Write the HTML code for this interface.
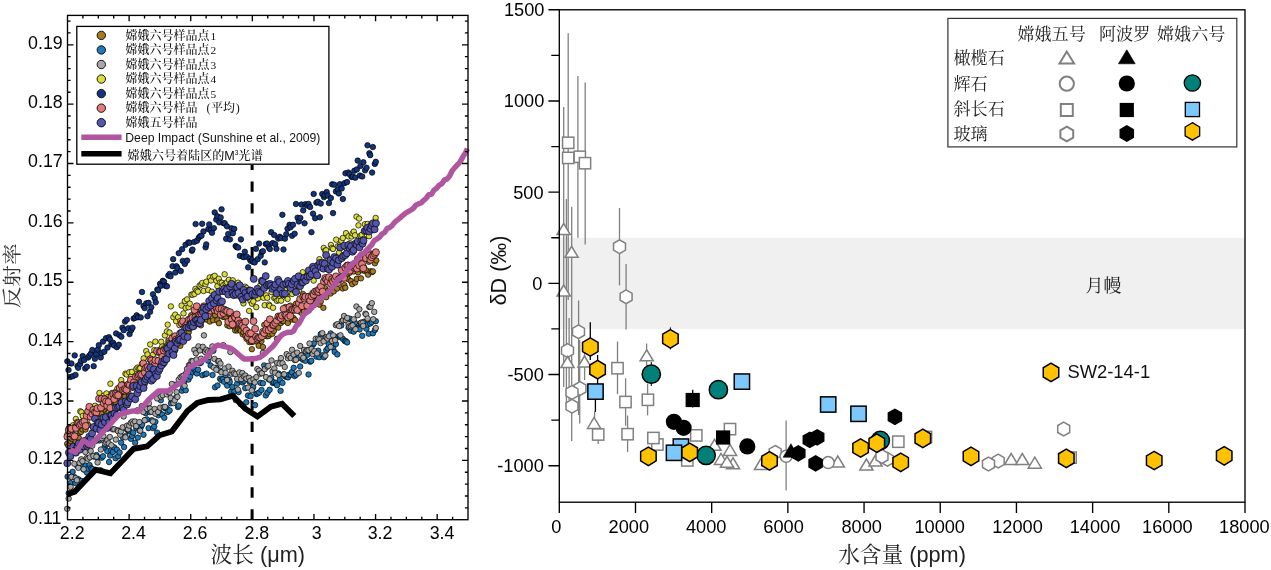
<!DOCTYPE html>
<html lang="zh"><head><meta charset="utf-8"><title>figure</title>
<style>html,body{margin:0;padding:0;background:#fff}svg{display:block;will-change:transform}text{white-space:pre}</style>
</head><body>
<svg width="1271" height="570" viewBox="0 0 1271 570">
<rect width="1271" height="570" fill="#fff"/>
<g id="left">
<line x1="252.1" y1="519.5" x2="252.1" y2="165" stroke="#000" stroke-width="3" stroke-dasharray="10.3 11.55"/>
<g fill="#a67a1f" stroke="#000" stroke-width="0.7">
<circle cx="67.2" cy="443.77" r="2.75"/><circle cx="68.49" cy="445.95" r="2.75"/><circle cx="70.63" cy="440.91" r="2.75"/><circle cx="71.75" cy="438.98" r="2.75"/><circle cx="73.03" cy="434.53" r="2.75"/><circle cx="74.73" cy="436.46" r="2.75"/><circle cx="75.71" cy="441.32" r="2.75"/><circle cx="77.44" cy="436.52" r="2.75"/><circle cx="78.78" cy="437.96" r="2.75"/><circle cx="79.66" cy="432.67" r="2.75"/><circle cx="81.07" cy="431.87" r="2.75"/><circle cx="82.48" cy="429.36" r="2.75"/><circle cx="83.82" cy="418.97" r="2.75"/><circle cx="85.47" cy="429.57" r="2.75"/><circle cx="86.59" cy="426.4" r="2.75"/><circle cx="88.09" cy="424.86" r="2.75"/><circle cx="89.24" cy="412.85" r="2.75"/><circle cx="91.24" cy="411.58" r="2.75"/><circle cx="92.17" cy="414.66" r="2.75"/><circle cx="93.63" cy="415.66" r="2.75"/><circle cx="95.11" cy="418.35" r="2.75"/><circle cx="96.75" cy="415.65" r="2.75"/><circle cx="97.74" cy="417.35" r="2.75"/><circle cx="99.51" cy="410.74" r="2.75"/><circle cx="100.55" cy="414.28" r="2.75"/><circle cx="101.96" cy="413.67" r="2.75"/><circle cx="103.33" cy="407.59" r="2.75"/><circle cx="104.3" cy="417.98" r="2.75"/><circle cx="106.01" cy="411.39" r="2.75"/><circle cx="107.19" cy="413.44" r="2.75"/><circle cx="108.42" cy="403.7" r="2.75"/><circle cx="110.43" cy="402.1" r="2.75"/><circle cx="111.31" cy="402.98" r="2.75"/><circle cx="112.93" cy="403.1" r="2.75"/><circle cx="114.51" cy="405.62" r="2.75"/><circle cx="115.75" cy="402.76" r="2.75"/><circle cx="116.94" cy="398.4" r="2.75"/><circle cx="118.47" cy="394.93" r="2.75"/><circle cx="119.88" cy="396" r="2.75"/><circle cx="121.44" cy="403.34" r="2.75"/><circle cx="122.27" cy="392.58" r="2.75"/><circle cx="124.01" cy="396.61" r="2.75"/><circle cx="125.14" cy="396.46" r="2.75"/><circle cx="126.54" cy="386.25" r="2.75"/><circle cx="128.32" cy="392.61" r="2.75"/><circle cx="129.48" cy="397.62" r="2.75"/><circle cx="130.9" cy="380.66" r="2.75"/><circle cx="132.44" cy="387.57" r="2.75"/><circle cx="133.94" cy="387.3" r="2.75"/><circle cx="134.94" cy="382.58" r="2.75"/><circle cx="136.45" cy="387.58" r="2.75"/><circle cx="137.74" cy="383.58" r="2.75"/><circle cx="139.13" cy="375.54" r="2.75"/><circle cx="140.65" cy="385.24" r="2.75"/><circle cx="141.83" cy="383.17" r="2.75"/><circle cx="143.27" cy="383.19" r="2.75"/><circle cx="144.61" cy="384.25" r="2.75"/><circle cx="146.36" cy="377.77" r="2.75"/><circle cx="147.54" cy="375.29" r="2.75"/><circle cx="149.06" cy="367.18" r="2.75"/><circle cx="150.49" cy="375.06" r="2.75"/><circle cx="151.32" cy="367.86" r="2.75"/><circle cx="152.94" cy="367.31" r="2.75"/><circle cx="154.62" cy="361.97" r="2.75"/><circle cx="155.91" cy="361.86" r="2.75"/><circle cx="156.73" cy="362.43" r="2.75"/><circle cx="158.09" cy="369.63" r="2.75"/><circle cx="159.73" cy="352.16" r="2.75"/><circle cx="160.81" cy="353.39" r="2.75"/><circle cx="162.32" cy="360.01" r="2.75"/><circle cx="163.56" cy="364.25" r="2.75"/><circle cx="165.42" cy="358.57" r="2.75"/><circle cx="166.89" cy="345.15" r="2.75"/><circle cx="168.36" cy="340.65" r="2.75"/><circle cx="169.14" cy="352.92" r="2.75"/><circle cx="170.97" cy="346.14" r="2.75"/><circle cx="172.3" cy="342.77" r="2.75"/><circle cx="173.26" cy="351.31" r="2.75"/><circle cx="175.23" cy="350.37" r="2.75"/><circle cx="176.68" cy="344.11" r="2.75"/><circle cx="177.45" cy="342.79" r="2.75"/><circle cx="179.42" cy="341.95" r="2.75"/><circle cx="180.35" cy="345.77" r="2.75"/><circle cx="181.8" cy="339.34" r="2.75"/><circle cx="183.58" cy="337.12" r="2.75"/><circle cx="184.83" cy="335.51" r="2.75"/><circle cx="185.67" cy="323.61" r="2.75"/><circle cx="187.26" cy="335.55" r="2.75"/><circle cx="188.71" cy="332.24" r="2.75"/><circle cx="189.94" cy="328.48" r="2.75"/><circle cx="191.21" cy="315.24" r="2.75"/><circle cx="192.68" cy="320.44" r="2.75"/><circle cx="194.38" cy="326.3" r="2.75"/><circle cx="195.2" cy="312.34" r="2.75"/><circle cx="197" cy="318.93" r="2.75"/><circle cx="198.29" cy="323.48" r="2.75"/><circle cx="199.33" cy="311.57" r="2.75"/><circle cx="200.96" cy="325.34" r="2.75"/><circle cx="202.57" cy="320" r="2.75"/><circle cx="203.86" cy="316.37" r="2.75"/><circle cx="204.87" cy="318.39" r="2.75"/><circle cx="206.99" cy="319.69" r="2.75"/><circle cx="208.21" cy="316.89" r="2.75"/><circle cx="209.73" cy="321.56" r="2.75"/><circle cx="210.42" cy="312.62" r="2.75"/><circle cx="211.92" cy="313.55" r="2.75"/><circle cx="213.12" cy="320.28" r="2.75"/><circle cx="215.09" cy="315.15" r="2.75"/><circle cx="216.06" cy="311.14" r="2.75"/><circle cx="217.32" cy="320.31" r="2.75"/><circle cx="218.93" cy="323.21" r="2.75"/><circle cx="220.7" cy="314.45" r="2.75"/><circle cx="222.01" cy="310.36" r="2.75"/><circle cx="222.93" cy="316.74" r="2.75"/><circle cx="224.22" cy="317.08" r="2.75"/><circle cx="226.22" cy="316.77" r="2.75"/><circle cx="227.32" cy="325.35" r="2.75"/><circle cx="228.8" cy="314.1" r="2.75"/><circle cx="229.68" cy="326.29" r="2.75"/><circle cx="231.04" cy="315.36" r="2.75"/><circle cx="232.92" cy="318.88" r="2.75"/><circle cx="234.09" cy="326.9" r="2.75"/><circle cx="235.18" cy="330.49" r="2.75"/><circle cx="237.25" cy="330.4" r="2.75"/><circle cx="238.38" cy="329.15" r="2.75"/><circle cx="239.9" cy="329.38" r="2.75"/><circle cx="240.7" cy="330.85" r="2.75"/><circle cx="242.69" cy="334.37" r="2.75"/><circle cx="243.44" cy="332.26" r="2.75"/><circle cx="245.45" cy="335.93" r="2.75"/><circle cx="246.5" cy="338.84" r="2.75"/><circle cx="247.79" cy="337.59" r="2.75"/><circle cx="249.34" cy="342.08" r="2.75"/><circle cx="251.01" cy="341.69" r="2.75"/><circle cx="251.86" cy="349.2" r="2.75"/><circle cx="253.13" cy="341.67" r="2.75"/><circle cx="254.83" cy="338.63" r="2.75"/><circle cx="255.97" cy="339.46" r="2.75"/><circle cx="257.25" cy="341.75" r="2.75"/><circle cx="258.66" cy="345.73" r="2.75"/><circle cx="259.95" cy="338.65" r="2.75"/><circle cx="261.45" cy="341.08" r="2.75"/><circle cx="262.92" cy="347.02" r="2.75"/><circle cx="264.29" cy="324.86" r="2.75"/><circle cx="266.03" cy="330.74" r="2.75"/><circle cx="267.03" cy="336.27" r="2.75"/><circle cx="268.58" cy="335.98" r="2.75"/><circle cx="269.7" cy="334.18" r="2.75"/><circle cx="271.21" cy="329.78" r="2.75"/><circle cx="272.32" cy="333.8" r="2.75"/><circle cx="273.89" cy="330.82" r="2.75"/><circle cx="275.07" cy="325.76" r="2.75"/><circle cx="277.03" cy="338.74" r="2.75"/><circle cx="278.26" cy="327.59" r="2.75"/><circle cx="279.35" cy="322.03" r="2.75"/><circle cx="280.95" cy="323.02" r="2.75"/><circle cx="282.7" cy="321.22" r="2.75"/><circle cx="283.41" cy="320.93" r="2.75"/><circle cx="285.36" cy="307.09" r="2.75"/><circle cx="286.43" cy="316.81" r="2.75"/><circle cx="287.85" cy="322.95" r="2.75"/><circle cx="289.5" cy="311.47" r="2.75"/><circle cx="290.53" cy="315.72" r="2.75"/><circle cx="291.99" cy="319.58" r="2.75"/><circle cx="293.52" cy="318.07" r="2.75"/><circle cx="295.13" cy="320.08" r="2.75"/><circle cx="295.99" cy="303.72" r="2.75"/><circle cx="297.76" cy="309.15" r="2.75"/><circle cx="299.04" cy="308.17" r="2.75"/><circle cx="300.36" cy="311.76" r="2.75"/><circle cx="301.55" cy="312.97" r="2.75"/><circle cx="302.88" cy="293.89" r="2.75"/><circle cx="304.03" cy="311.2" r="2.75"/><circle cx="305.47" cy="298.24" r="2.75"/><circle cx="306.79" cy="307.67" r="2.75"/><circle cx="308.71" cy="296.44" r="2.75"/><circle cx="309.7" cy="303.65" r="2.75"/><circle cx="311" cy="307.75" r="2.75"/><circle cx="312.31" cy="300.51" r="2.75"/><circle cx="314.3" cy="301.35" r="2.75"/><circle cx="315.7" cy="303.47" r="2.75"/><circle cx="316.92" cy="299.53" r="2.75"/><circle cx="317.98" cy="297.63" r="2.75"/><circle cx="319.33" cy="304.63" r="2.75"/><circle cx="320.75" cy="301.44" r="2.75"/><circle cx="322.26" cy="294.1" r="2.75"/><circle cx="323.39" cy="307.8" r="2.75"/><circle cx="325" cy="288.22" r="2.75"/><circle cx="326.23" cy="297.22" r="2.75"/><circle cx="328.17" cy="290.66" r="2.75"/><circle cx="329.55" cy="291.67" r="2.75"/><circle cx="330.59" cy="293.53" r="2.75"/><circle cx="331.72" cy="290.32" r="2.75"/><circle cx="333.68" cy="291.42" r="2.75"/><circle cx="334.53" cy="280.13" r="2.75"/><circle cx="335.95" cy="279.32" r="2.75"/><circle cx="337.04" cy="288.62" r="2.75"/><circle cx="338.72" cy="280.21" r="2.75"/><circle cx="340.17" cy="279.08" r="2.75"/><circle cx="341.57" cy="276.12" r="2.75"/><circle cx="342.71" cy="288.43" r="2.75"/><circle cx="344.33" cy="285.11" r="2.75"/><circle cx="345.3" cy="287.77" r="2.75"/><circle cx="346.89" cy="275.37" r="2.75"/><circle cx="348.13" cy="279.05" r="2.75"/><circle cx="349.75" cy="272.75" r="2.75"/><circle cx="350.84" cy="281.07" r="2.75"/><circle cx="352.21" cy="284.2" r="2.75"/><circle cx="353.81" cy="271.47" r="2.75"/><circle cx="355.13" cy="282.4" r="2.75"/><circle cx="356.79" cy="278.83" r="2.75"/><circle cx="358.12" cy="272.41" r="2.75"/><circle cx="359.67" cy="262.97" r="2.75"/><circle cx="360.98" cy="278.36" r="2.75"/><circle cx="362.4" cy="270.32" r="2.75"/><circle cx="363.91" cy="267.06" r="2.75"/><circle cx="364.89" cy="271.05" r="2.75"/><circle cx="366.22" cy="270.27" r="2.75"/><circle cx="368.12" cy="274.67" r="2.75"/><circle cx="368.83" cy="261.76" r="2.75"/><circle cx="370.67" cy="271.28" r="2.75"/><circle cx="371.98" cy="272.14" r="2.75"/><circle cx="372.88" cy="271.39" r="2.75"/><circle cx="374.89" cy="263.34" r="2.75"/><circle cx="376.31" cy="260.43" r="2.75"/>
</g>
<g fill="#1f78b8" stroke="#000" stroke-width="0.7">
<circle cx="67.58" cy="476.63" r="2.75"/><circle cx="68.7" cy="493.22" r="2.75"/><circle cx="70.53" cy="483.06" r="2.75"/><circle cx="71.65" cy="477.26" r="2.75"/><circle cx="72.63" cy="471.78" r="2.75"/><circle cx="74.51" cy="477.11" r="2.75"/><circle cx="75.52" cy="483.2" r="2.75"/><circle cx="77.26" cy="466.04" r="2.75"/><circle cx="78.3" cy="479.16" r="2.75"/><circle cx="79.79" cy="466.47" r="2.75"/><circle cx="81.43" cy="480.86" r="2.75"/><circle cx="82.54" cy="465.91" r="2.75"/><circle cx="83.63" cy="469.42" r="2.75"/><circle cx="85.68" cy="465.61" r="2.75"/><circle cx="86.78" cy="472.45" r="2.75"/><circle cx="88.37" cy="468.68" r="2.75"/><circle cx="89.51" cy="465" r="2.75"/><circle cx="91.22" cy="468.28" r="2.75"/><circle cx="92.39" cy="469.16" r="2.75"/><circle cx="93.98" cy="456.59" r="2.75"/><circle cx="95.37" cy="456.33" r="2.75"/><circle cx="96.5" cy="455.05" r="2.75"/><circle cx="97.44" cy="457.4" r="2.75"/><circle cx="99.34" cy="440.49" r="2.75"/><circle cx="100.51" cy="470.26" r="2.75"/><circle cx="101.78" cy="457.68" r="2.75"/><circle cx="102.97" cy="456.29" r="2.75"/><circle cx="104.44" cy="447.53" r="2.75"/><circle cx="106.08" cy="444.82" r="2.75"/><circle cx="107.29" cy="451.08" r="2.75"/><circle cx="109.09" cy="462.01" r="2.75"/><circle cx="110.15" cy="455.55" r="2.75"/><circle cx="111.23" cy="450.25" r="2.75"/><circle cx="112.88" cy="451.97" r="2.75"/><circle cx="114.37" cy="447.41" r="2.75"/><circle cx="115.61" cy="458.18" r="2.75"/><circle cx="116.93" cy="449.63" r="2.75"/><circle cx="118.13" cy="456.14" r="2.75"/><circle cx="119.59" cy="452.42" r="2.75"/><circle cx="121.17" cy="442.68" r="2.75"/><circle cx="122.78" cy="437.34" r="2.75"/><circle cx="124.07" cy="447.12" r="2.75"/><circle cx="125.44" cy="436.14" r="2.75"/><circle cx="126.62" cy="429.05" r="2.75"/><circle cx="128.34" cy="431.04" r="2.75"/><circle cx="129.23" cy="430.41" r="2.75"/><circle cx="130.94" cy="438.82" r="2.75"/><circle cx="132.1" cy="435.95" r="2.75"/><circle cx="133.24" cy="432.62" r="2.75"/><circle cx="135.14" cy="442.72" r="2.75"/><circle cx="136.2" cy="427.69" r="2.75"/><circle cx="137.82" cy="437.58" r="2.75"/><circle cx="139.47" cy="430.65" r="2.75"/><circle cx="140.75" cy="427.34" r="2.75"/><circle cx="142.04" cy="424.84" r="2.75"/><circle cx="143.47" cy="434.78" r="2.75"/><circle cx="144.96" cy="420.15" r="2.75"/><circle cx="145.71" cy="413.19" r="2.75"/><circle cx="146.99" cy="419.38" r="2.75"/><circle cx="148.6" cy="428.14" r="2.75"/><circle cx="149.85" cy="412.12" r="2.75"/><circle cx="151.8" cy="420.21" r="2.75"/><circle cx="153.12" cy="428.11" r="2.75"/><circle cx="154.28" cy="426.41" r="2.75"/><circle cx="155.37" cy="421.71" r="2.75"/><circle cx="157.14" cy="432.64" r="2.75"/><circle cx="158.43" cy="415.28" r="2.75"/><circle cx="159.72" cy="412.73" r="2.75"/><circle cx="160.81" cy="400.29" r="2.75"/><circle cx="162.3" cy="414.62" r="2.75"/><circle cx="164.3" cy="417.77" r="2.75"/><circle cx="165.02" cy="408.2" r="2.75"/><circle cx="166.63" cy="408" r="2.75"/><circle cx="167.83" cy="411.91" r="2.75"/><circle cx="169.63" cy="410.45" r="2.75"/><circle cx="171.02" cy="403.29" r="2.75"/><circle cx="171.99" cy="400.36" r="2.75"/><circle cx="173.35" cy="400.55" r="2.75"/><circle cx="174.88" cy="384.64" r="2.75"/><circle cx="176.09" cy="397.4" r="2.75"/><circle cx="178" cy="407.12" r="2.75"/><circle cx="178.71" cy="405.77" r="2.75"/><circle cx="180.23" cy="379.86" r="2.75"/><circle cx="181.93" cy="390.71" r="2.75"/><circle cx="183.16" cy="387.57" r="2.75"/><circle cx="184.17" cy="381.78" r="2.75"/><circle cx="185.73" cy="390.26" r="2.75"/><circle cx="187.22" cy="376.8" r="2.75"/><circle cx="188.48" cy="379.56" r="2.75"/><circle cx="190.15" cy="376.58" r="2.75"/><circle cx="191.21" cy="366.56" r="2.75"/><circle cx="192.84" cy="372.31" r="2.75"/><circle cx="194.29" cy="368.94" r="2.75"/><circle cx="195.71" cy="371.89" r="2.75"/><circle cx="196.85" cy="373.44" r="2.75"/><circle cx="198.1" cy="369.69" r="2.75"/><circle cx="199.79" cy="363.22" r="2.75"/><circle cx="200.85" cy="362.66" r="2.75"/><circle cx="202.37" cy="375.15" r="2.75"/><circle cx="203.51" cy="350" r="2.75"/><circle cx="205.22" cy="374.32" r="2.75"/><circle cx="206.53" cy="373.64" r="2.75"/><circle cx="208.11" cy="360.71" r="2.75"/><circle cx="209.38" cy="351.37" r="2.75"/><circle cx="210.65" cy="365.52" r="2.75"/><circle cx="212.5" cy="375.03" r="2.75"/><circle cx="213.42" cy="350.71" r="2.75"/><circle cx="215.06" cy="387.27" r="2.75"/><circle cx="216.17" cy="367.82" r="2.75"/><circle cx="217.53" cy="385.5" r="2.75"/><circle cx="219.35" cy="370.48" r="2.75"/><circle cx="220.1" cy="378.68" r="2.75"/><circle cx="221.42" cy="380.21" r="2.75"/><circle cx="223.02" cy="379.06" r="2.75"/><circle cx="224.21" cy="381.86" r="2.75"/><circle cx="225.6" cy="375.13" r="2.75"/><circle cx="227.18" cy="385.58" r="2.75"/><circle cx="228.98" cy="379.73" r="2.75"/><circle cx="229.75" cy="381.89" r="2.75"/><circle cx="231.12" cy="391.73" r="2.75"/><circle cx="232.42" cy="387.01" r="2.75"/><circle cx="234.35" cy="391.64" r="2.75"/><circle cx="235.77" cy="400.06" r="2.75"/><circle cx="237.17" cy="383.57" r="2.75"/><circle cx="238.61" cy="392" r="2.75"/><circle cx="239.74" cy="380.42" r="2.75"/><circle cx="240.7" cy="404.08" r="2.75"/><circle cx="242.56" cy="382.39" r="2.75"/><circle cx="243.9" cy="380.77" r="2.75"/><circle cx="245.26" cy="388.15" r="2.75"/><circle cx="246.3" cy="402.31" r="2.75"/><circle cx="247.97" cy="395.52" r="2.75"/><circle cx="249.65" cy="381.66" r="2.75"/><circle cx="250.56" cy="396.3" r="2.75"/><circle cx="252.43" cy="388.98" r="2.75"/><circle cx="253.18" cy="386.95" r="2.75"/><circle cx="255.08" cy="405.11" r="2.75"/><circle cx="256.32" cy="393.94" r="2.75"/><circle cx="257.47" cy="393.52" r="2.75"/><circle cx="259.21" cy="392.61" r="2.75"/><circle cx="260.43" cy="382.86" r="2.75"/><circle cx="261.49" cy="389.95" r="2.75"/><circle cx="262.96" cy="383.31" r="2.75"/><circle cx="264.19" cy="365.43" r="2.75"/><circle cx="265.78" cy="395.4" r="2.75"/><circle cx="267.45" cy="392.69" r="2.75"/><circle cx="268.82" cy="379.45" r="2.75"/><circle cx="269.61" cy="389.81" r="2.75"/><circle cx="271.22" cy="377.72" r="2.75"/><circle cx="272.71" cy="382.89" r="2.75"/><circle cx="273.72" cy="382.2" r="2.75"/><circle cx="275.8" cy="383.09" r="2.75"/><circle cx="277.02" cy="385.16" r="2.75"/><circle cx="278.42" cy="373.5" r="2.75"/><circle cx="279.72" cy="379.89" r="2.75"/><circle cx="280.59" cy="390.83" r="2.75"/><circle cx="282.44" cy="382.9" r="2.75"/><circle cx="283.41" cy="374.47" r="2.75"/><circle cx="285.41" cy="376.65" r="2.75"/><circle cx="286.73" cy="376.4" r="2.75"/><circle cx="288.01" cy="377.39" r="2.75"/><circle cx="289.01" cy="374.68" r="2.75"/><circle cx="290.7" cy="374.72" r="2.75"/><circle cx="291.85" cy="372.12" r="2.75"/><circle cx="293.69" cy="367.83" r="2.75"/><circle cx="294.55" cy="376.02" r="2.75"/><circle cx="296.1" cy="374.7" r="2.75"/><circle cx="297.59" cy="357.64" r="2.75"/><circle cx="298.77" cy="357.91" r="2.75"/><circle cx="300.18" cy="366.47" r="2.75"/><circle cx="301.45" cy="355.17" r="2.75"/><circle cx="302.91" cy="359.63" r="2.75"/><circle cx="304.2" cy="358.42" r="2.75"/><circle cx="305.4" cy="360.84" r="2.75"/><circle cx="307.51" cy="354.78" r="2.75"/><circle cx="308.53" cy="374.47" r="2.75"/><circle cx="310.21" cy="361.65" r="2.75"/><circle cx="311.3" cy="360.78" r="2.75"/><circle cx="312.84" cy="344.83" r="2.75"/><circle cx="313.93" cy="343.35" r="2.75"/><circle cx="315.12" cy="353.43" r="2.75"/><circle cx="316.44" cy="356.64" r="2.75"/><circle cx="318.25" cy="350.72" r="2.75"/><circle cx="319.37" cy="357.17" r="2.75"/><circle cx="320.76" cy="334.04" r="2.75"/><circle cx="322.58" cy="355.22" r="2.75"/><circle cx="323.98" cy="357.26" r="2.75"/><circle cx="325.24" cy="337.64" r="2.75"/><circle cx="326.25" cy="350.24" r="2.75"/><circle cx="327.73" cy="348.4" r="2.75"/><circle cx="328.81" cy="344.17" r="2.75"/><circle cx="330.64" cy="333.46" r="2.75"/><circle cx="331.57" cy="338.18" r="2.75"/><circle cx="333.15" cy="347.73" r="2.75"/><circle cx="334.71" cy="351.94" r="2.75"/><circle cx="335.9" cy="344.1" r="2.75"/><circle cx="337.33" cy="354.42" r="2.75"/><circle cx="338.54" cy="336.32" r="2.75"/><circle cx="340.15" cy="337.02" r="2.75"/><circle cx="341.28" cy="325.48" r="2.75"/><circle cx="342.76" cy="338.8" r="2.75"/><circle cx="344.7" cy="340.97" r="2.75"/><circle cx="345.96" cy="341.31" r="2.75"/><circle cx="347.15" cy="342.39" r="2.75"/><circle cx="348.54" cy="327.8" r="2.75"/><circle cx="349.83" cy="318.7" r="2.75"/><circle cx="350.81" cy="330.64" r="2.75"/><circle cx="352.21" cy="321.93" r="2.75"/><circle cx="353.69" cy="331.66" r="2.75"/><circle cx="355.03" cy="322.85" r="2.75"/><circle cx="356.84" cy="327.87" r="2.75"/><circle cx="358.03" cy="328.46" r="2.75"/><circle cx="359.59" cy="329.44" r="2.75"/><circle cx="360.78" cy="322.97" r="2.75"/><circle cx="362.23" cy="335.77" r="2.75"/><circle cx="363.71" cy="321.84" r="2.75"/><circle cx="365.16" cy="324.75" r="2.75"/><circle cx="366.39" cy="328.66" r="2.75"/><circle cx="367.69" cy="324.56" r="2.75"/><circle cx="368.78" cy="333.71" r="2.75"/><circle cx="370.23" cy="323.52" r="2.75"/><circle cx="371.68" cy="322.03" r="2.75"/><circle cx="372.94" cy="333.28" r="2.75"/><circle cx="374.96" cy="329.94" r="2.75"/><circle cx="375.81" cy="321.15" r="2.75"/>
</g>
<g fill="#a8a8a8" stroke="#000" stroke-width="0.7">
<circle cx="67.19" cy="508.8" r="2.75"/><circle cx="68.65" cy="498.56" r="2.75"/><circle cx="70.62" cy="486.96" r="2.75"/><circle cx="71.51" cy="476.93" r="2.75"/><circle cx="72.97" cy="491.74" r="2.75"/><circle cx="74.37" cy="463.78" r="2.75"/><circle cx="75.69" cy="478.27" r="2.75"/><circle cx="76.91" cy="480.25" r="2.75"/><circle cx="78.43" cy="467.82" r="2.75"/><circle cx="79.59" cy="462.86" r="2.75"/><circle cx="81.16" cy="459.32" r="2.75"/><circle cx="82.47" cy="461.24" r="2.75"/><circle cx="83.64" cy="469.24" r="2.75"/><circle cx="85.34" cy="452.06" r="2.75"/><circle cx="86.66" cy="457.95" r="2.75"/><circle cx="87.94" cy="458.77" r="2.75"/><circle cx="89.89" cy="457.29" r="2.75"/><circle cx="90.69" cy="450.95" r="2.75"/><circle cx="92.2" cy="445.71" r="2.75"/><circle cx="93.37" cy="455.97" r="2.75"/><circle cx="95.29" cy="441.31" r="2.75"/><circle cx="96.4" cy="456.65" r="2.75"/><circle cx="97.58" cy="462.44" r="2.75"/><circle cx="99.06" cy="438.6" r="2.75"/><circle cx="100.81" cy="449.52" r="2.75"/><circle cx="101.91" cy="438.23" r="2.75"/><circle cx="103.35" cy="436.14" r="2.75"/><circle cx="104.95" cy="443.6" r="2.75"/><circle cx="106.34" cy="442.65" r="2.75"/><circle cx="107.34" cy="440.26" r="2.75"/><circle cx="108.76" cy="443.35" r="2.75"/><circle cx="109.8" cy="437" r="2.75"/><circle cx="111.4" cy="445.24" r="2.75"/><circle cx="112.79" cy="429.33" r="2.75"/><circle cx="114.27" cy="429.24" r="2.75"/><circle cx="115.83" cy="439.57" r="2.75"/><circle cx="117.42" cy="430.21" r="2.75"/><circle cx="118.1" cy="431.22" r="2.75"/><circle cx="120.16" cy="434.66" r="2.75"/><circle cx="120.92" cy="431.46" r="2.75"/><circle cx="122.7" cy="427.34" r="2.75"/><circle cx="123.62" cy="416.42" r="2.75"/><circle cx="125.43" cy="437.35" r="2.75"/><circle cx="127" cy="425.64" r="2.75"/><circle cx="128.06" cy="429.22" r="2.75"/><circle cx="129.24" cy="425.58" r="2.75"/><circle cx="130.88" cy="422.8" r="2.75"/><circle cx="132.38" cy="421.47" r="2.75"/><circle cx="133.28" cy="423.59" r="2.75"/><circle cx="135.02" cy="421.52" r="2.75"/><circle cx="136.2" cy="426.03" r="2.75"/><circle cx="137.51" cy="410.28" r="2.75"/><circle cx="139.39" cy="422.09" r="2.75"/><circle cx="140.19" cy="430.69" r="2.75"/><circle cx="141.81" cy="406.11" r="2.75"/><circle cx="143.23" cy="411.94" r="2.75"/><circle cx="144.61" cy="420.27" r="2.75"/><circle cx="146.16" cy="404.46" r="2.75"/><circle cx="147.11" cy="408.96" r="2.75"/><circle cx="148.94" cy="403.42" r="2.75"/><circle cx="149.99" cy="408.54" r="2.75"/><circle cx="151.51" cy="411.74" r="2.75"/><circle cx="152.86" cy="421.5" r="2.75"/><circle cx="154.67" cy="408.99" r="2.75"/><circle cx="155.39" cy="413.73" r="2.75"/><circle cx="157.14" cy="398.47" r="2.75"/><circle cx="158.03" cy="411.99" r="2.75"/><circle cx="160.17" cy="407.67" r="2.75"/><circle cx="160.83" cy="396.53" r="2.75"/><circle cx="162.73" cy="395.18" r="2.75"/><circle cx="163.68" cy="407.03" r="2.75"/><circle cx="164.99" cy="406.9" r="2.75"/><circle cx="166.79" cy="394.36" r="2.75"/><circle cx="168.26" cy="392.13" r="2.75"/><circle cx="169.75" cy="392.54" r="2.75"/><circle cx="170.67" cy="398.04" r="2.75"/><circle cx="171.81" cy="383.99" r="2.75"/><circle cx="173.43" cy="403.12" r="2.75"/><circle cx="174.79" cy="400.34" r="2.75"/><circle cx="176.6" cy="392.12" r="2.75"/><circle cx="177.44" cy="396.86" r="2.75"/><circle cx="178.75" cy="379.68" r="2.75"/><circle cx="180.6" cy="377.2" r="2.75"/><circle cx="182.19" cy="376.17" r="2.75"/><circle cx="183.58" cy="375.52" r="2.75"/><circle cx="184.61" cy="385.74" r="2.75"/><circle cx="186" cy="373.38" r="2.75"/><circle cx="187.01" cy="368.93" r="2.75"/><circle cx="188.95" cy="365.11" r="2.75"/><circle cx="190.29" cy="365.16" r="2.75"/><circle cx="191.45" cy="361.02" r="2.75"/><circle cx="192.73" cy="361.31" r="2.75"/><circle cx="194.34" cy="349.87" r="2.75"/><circle cx="195.88" cy="353.26" r="2.75"/><circle cx="196.59" cy="359.49" r="2.75"/><circle cx="198.44" cy="346.38" r="2.75"/><circle cx="199.85" cy="350.42" r="2.75"/><circle cx="201.03" cy="358.66" r="2.75"/><circle cx="202.81" cy="346.78" r="2.75"/><circle cx="203.9" cy="335.36" r="2.75"/><circle cx="205.06" cy="352.01" r="2.75"/><circle cx="206.46" cy="349.87" r="2.75"/><circle cx="208.09" cy="351.43" r="2.75"/><circle cx="209" cy="356.96" r="2.75"/><circle cx="210.36" cy="352.11" r="2.75"/><circle cx="212.36" cy="346.42" r="2.75"/><circle cx="213.82" cy="367.6" r="2.75"/><circle cx="214.48" cy="358.98" r="2.75"/><circle cx="216.31" cy="369.69" r="2.75"/><circle cx="218" cy="361.43" r="2.75"/><circle cx="218.93" cy="361.06" r="2.75"/><circle cx="220.49" cy="363.52" r="2.75"/><circle cx="221.47" cy="372.23" r="2.75"/><circle cx="223.26" cy="345.17" r="2.75"/><circle cx="224.79" cy="368.47" r="2.75"/><circle cx="225.58" cy="372.77" r="2.75"/><circle cx="227.08" cy="379.97" r="2.75"/><circle cx="228.6" cy="366.66" r="2.75"/><circle cx="230.35" cy="352.06" r="2.75"/><circle cx="231.59" cy="373.84" r="2.75"/><circle cx="232.48" cy="370.8" r="2.75"/><circle cx="233.98" cy="373.4" r="2.75"/><circle cx="235.52" cy="374.15" r="2.75"/><circle cx="237.21" cy="378.95" r="2.75"/><circle cx="237.92" cy="389.52" r="2.75"/><circle cx="239.3" cy="372.44" r="2.75"/><circle cx="241.18" cy="379.05" r="2.75"/><circle cx="242.32" cy="373.06" r="2.75"/><circle cx="243.87" cy="376.35" r="2.75"/><circle cx="245.43" cy="375.55" r="2.75"/><circle cx="246.39" cy="378.58" r="2.75"/><circle cx="248.1" cy="387.54" r="2.75"/><circle cx="249.03" cy="377.73" r="2.75"/><circle cx="250.37" cy="380.75" r="2.75"/><circle cx="251.78" cy="390.4" r="2.75"/><circle cx="253.41" cy="379.36" r="2.75"/><circle cx="254.77" cy="382.42" r="2.75"/><circle cx="256.38" cy="377.08" r="2.75"/><circle cx="257.38" cy="369.04" r="2.75"/><circle cx="259.06" cy="370.64" r="2.75"/><circle cx="260.39" cy="373.71" r="2.75"/><circle cx="261.87" cy="373.16" r="2.75"/><circle cx="262.91" cy="352.81" r="2.75"/><circle cx="264.75" cy="369.17" r="2.75"/><circle cx="265.97" cy="377.11" r="2.75"/><circle cx="267.52" cy="366.61" r="2.75"/><circle cx="268.4" cy="365.83" r="2.75"/><circle cx="269.68" cy="379.37" r="2.75"/><circle cx="271.54" cy="360.44" r="2.75"/><circle cx="272.54" cy="371.6" r="2.75"/><circle cx="274.4" cy="368.54" r="2.75"/><circle cx="275.18" cy="372.78" r="2.75"/><circle cx="277.08" cy="362.91" r="2.75"/><circle cx="278.44" cy="374.87" r="2.75"/><circle cx="279.62" cy="363.61" r="2.75"/><circle cx="280.96" cy="358.1" r="2.75"/><circle cx="282.58" cy="363.29" r="2.75"/><circle cx="284.11" cy="374.3" r="2.75"/><circle cx="284.75" cy="366.91" r="2.75"/><circle cx="286.65" cy="354.11" r="2.75"/><circle cx="287.93" cy="358.26" r="2.75"/><circle cx="288.9" cy="355.8" r="2.75"/><circle cx="290.83" cy="358.03" r="2.75"/><circle cx="292.05" cy="349.82" r="2.75"/><circle cx="293.67" cy="354.57" r="2.75"/><circle cx="294.72" cy="360.02" r="2.75"/><circle cx="295.87" cy="359.86" r="2.75"/><circle cx="297.24" cy="352.65" r="2.75"/><circle cx="298.77" cy="372.88" r="2.75"/><circle cx="300.17" cy="346" r="2.75"/><circle cx="301.35" cy="355.5" r="2.75"/><circle cx="303.4" cy="357.68" r="2.75"/><circle cx="304.07" cy="349.93" r="2.75"/><circle cx="305.99" cy="351.22" r="2.75"/><circle cx="307.22" cy="350.08" r="2.75"/><circle cx="308.53" cy="350.28" r="2.75"/><circle cx="309.52" cy="343.49" r="2.75"/><circle cx="311.56" cy="348.96" r="2.75"/><circle cx="312.7" cy="354.03" r="2.75"/><circle cx="314.25" cy="351.14" r="2.75"/><circle cx="315.76" cy="338.72" r="2.75"/><circle cx="317.03" cy="353.42" r="2.75"/><circle cx="317.96" cy="338.66" r="2.75"/><circle cx="319.29" cy="339.53" r="2.75"/><circle cx="320.58" cy="343.12" r="2.75"/><circle cx="322.33" cy="333.15" r="2.75"/><circle cx="323.63" cy="341.33" r="2.75"/><circle cx="325.37" cy="355.61" r="2.75"/><circle cx="326.5" cy="337.13" r="2.75"/><circle cx="327.49" cy="338.46" r="2.75"/><circle cx="328.98" cy="336.33" r="2.75"/><circle cx="330.66" cy="346.92" r="2.75"/><circle cx="332.06" cy="340.86" r="2.75"/><circle cx="333.26" cy="335.39" r="2.75"/><circle cx="335.06" cy="340.15" r="2.75"/><circle cx="335.84" cy="325.15" r="2.75"/><circle cx="337.24" cy="324.15" r="2.75"/><circle cx="339.14" cy="326.14" r="2.75"/><circle cx="340.46" cy="335.29" r="2.75"/><circle cx="341.8" cy="321.01" r="2.75"/><circle cx="343.06" cy="320.22" r="2.75"/><circle cx="343.97" cy="315.97" r="2.75"/><circle cx="345.9" cy="320.31" r="2.75"/><circle cx="347.22" cy="317.99" r="2.75"/><circle cx="348.53" cy="324.05" r="2.75"/><circle cx="349.52" cy="326.46" r="2.75"/><circle cx="351.02" cy="326.22" r="2.75"/><circle cx="352.57" cy="325.39" r="2.75"/><circle cx="353.76" cy="319.35" r="2.75"/><circle cx="355.48" cy="329.26" r="2.75"/><circle cx="356.44" cy="306.48" r="2.75"/><circle cx="357.76" cy="315.15" r="2.75"/><circle cx="359.37" cy="309.26" r="2.75"/><circle cx="361.07" cy="322.75" r="2.75"/><circle cx="362.57" cy="323.09" r="2.75"/><circle cx="363.22" cy="325.92" r="2.75"/><circle cx="365.36" cy="313.66" r="2.75"/><circle cx="366.15" cy="314.44" r="2.75"/><circle cx="367.63" cy="318.54" r="2.75"/><circle cx="369.3" cy="307.03" r="2.75"/><circle cx="370.45" cy="306.68" r="2.75"/><circle cx="371.82" cy="303.15" r="2.75"/><circle cx="373.18" cy="319.28" r="2.75"/><circle cx="374.24" cy="311.88" r="2.75"/><circle cx="375.84" cy="328.06" r="2.75"/>
</g>
<g fill="#dcdc3c" stroke="#000" stroke-width="0.7">
<circle cx="67.51" cy="434.19" r="2.75"/><circle cx="68.76" cy="428.37" r="2.75"/><circle cx="70.27" cy="434.44" r="2.75"/><circle cx="71.77" cy="432.48" r="2.75"/><circle cx="72.94" cy="425.33" r="2.75"/><circle cx="74.1" cy="427.04" r="2.75"/><circle cx="75.85" cy="418.92" r="2.75"/><circle cx="77.41" cy="423.68" r="2.75"/><circle cx="78.8" cy="425.48" r="2.75"/><circle cx="80.29" cy="411.32" r="2.75"/><circle cx="81.38" cy="412.16" r="2.75"/><circle cx="82.81" cy="415.93" r="2.75"/><circle cx="83.71" cy="423.79" r="2.75"/><circle cx="85.44" cy="422.14" r="2.75"/><circle cx="86.7" cy="420.45" r="2.75"/><circle cx="87.88" cy="413.29" r="2.75"/><circle cx="89.36" cy="412.71" r="2.75"/><circle cx="90.6" cy="415.31" r="2.75"/><circle cx="92.44" cy="410.96" r="2.75"/><circle cx="93.55" cy="414.19" r="2.75"/><circle cx="95.07" cy="405.76" r="2.75"/><circle cx="96.54" cy="408.5" r="2.75"/><circle cx="97.64" cy="424.31" r="2.75"/><circle cx="99.42" cy="392.98" r="2.75"/><circle cx="100.46" cy="407.78" r="2.75"/><circle cx="102.19" cy="407.8" r="2.75"/><circle cx="103.68" cy="395.69" r="2.75"/><circle cx="104.48" cy="402.02" r="2.75"/><circle cx="106.44" cy="393.46" r="2.75"/><circle cx="107.8" cy="397.22" r="2.75"/><circle cx="108.81" cy="412.95" r="2.75"/><circle cx="110.41" cy="383.71" r="2.75"/><circle cx="111.97" cy="392.96" r="2.75"/><circle cx="112.96" cy="397.33" r="2.75"/><circle cx="114.24" cy="396.44" r="2.75"/><circle cx="115.78" cy="391.52" r="2.75"/><circle cx="117.44" cy="388.44" r="2.75"/><circle cx="118.48" cy="390.82" r="2.75"/><circle cx="119.73" cy="389.82" r="2.75"/><circle cx="121.26" cy="380.08" r="2.75"/><circle cx="122.89" cy="384.29" r="2.75"/><circle cx="123.96" cy="385.76" r="2.75"/><circle cx="125.44" cy="373.69" r="2.75"/><circle cx="126.6" cy="374.47" r="2.75"/><circle cx="128.35" cy="385.18" r="2.75"/><circle cx="129.33" cy="372.29" r="2.75"/><circle cx="131.11" cy="376.54" r="2.75"/><circle cx="131.92" cy="371.88" r="2.75"/><circle cx="133.76" cy="378.77" r="2.75"/><circle cx="135.38" cy="378.34" r="2.75"/><circle cx="136.3" cy="368.93" r="2.75"/><circle cx="137.57" cy="367.56" r="2.75"/><circle cx="139.12" cy="368.47" r="2.75"/><circle cx="140.24" cy="368.15" r="2.75"/><circle cx="141.95" cy="363.71" r="2.75"/><circle cx="143.64" cy="358.37" r="2.75"/><circle cx="144.26" cy="368.9" r="2.75"/><circle cx="146.23" cy="351.12" r="2.75"/><circle cx="147.53" cy="354.44" r="2.75"/><circle cx="148.44" cy="369" r="2.75"/><circle cx="150.13" cy="344.45" r="2.75"/><circle cx="151.32" cy="361.63" r="2.75"/><circle cx="152.91" cy="354.74" r="2.75"/><circle cx="154.33" cy="350.12" r="2.75"/><circle cx="155.34" cy="341.63" r="2.75"/><circle cx="157.23" cy="352.42" r="2.75"/><circle cx="158.08" cy="351.14" r="2.75"/><circle cx="159.79" cy="349.67" r="2.75"/><circle cx="161.24" cy="341.8" r="2.75"/><circle cx="162.18" cy="346.58" r="2.75"/><circle cx="163.7" cy="348.51" r="2.75"/><circle cx="164.91" cy="335.41" r="2.75"/><circle cx="166.95" cy="331.4" r="2.75"/><circle cx="167.69" cy="324.66" r="2.75"/><circle cx="169.51" cy="332.56" r="2.75"/><circle cx="170.86" cy="306.42" r="2.75"/><circle cx="172.12" cy="338.3" r="2.75"/><circle cx="173.35" cy="317.23" r="2.75"/><circle cx="175.24" cy="314.6" r="2.75"/><circle cx="176.14" cy="321.24" r="2.75"/><circle cx="178.05" cy="317.25" r="2.75"/><circle cx="179.42" cy="325.15" r="2.75"/><circle cx="180.34" cy="320.86" r="2.75"/><circle cx="181.59" cy="305.57" r="2.75"/><circle cx="183.49" cy="313.38" r="2.75"/><circle cx="184.8" cy="301.01" r="2.75"/><circle cx="185.68" cy="307.97" r="2.75"/><circle cx="187.07" cy="299.39" r="2.75"/><circle cx="188.53" cy="307.11" r="2.75"/><circle cx="189.77" cy="303.62" r="2.75"/><circle cx="191.36" cy="294.63" r="2.75"/><circle cx="192.48" cy="294.68" r="2.75"/><circle cx="194.47" cy="294.03" r="2.75"/><circle cx="195.38" cy="288.95" r="2.75"/><circle cx="196.79" cy="290.65" r="2.75"/><circle cx="197.96" cy="291.73" r="2.75"/><circle cx="199.59" cy="285.6" r="2.75"/><circle cx="201.26" cy="284.54" r="2.75"/><circle cx="202.28" cy="282.91" r="2.75"/><circle cx="203.55" cy="290.98" r="2.75"/><circle cx="205.49" cy="284.21" r="2.75"/><circle cx="206.33" cy="281.68" r="2.75"/><circle cx="208.16" cy="289.95" r="2.75"/><circle cx="209.72" cy="277.41" r="2.75"/><circle cx="211.09" cy="280.5" r="2.75"/><circle cx="211.89" cy="291.67" r="2.75"/><circle cx="213.19" cy="276.7" r="2.75"/><circle cx="214.67" cy="275.81" r="2.75"/><circle cx="216.31" cy="280.75" r="2.75"/><circle cx="217.42" cy="286.12" r="2.75"/><circle cx="218.77" cy="278.76" r="2.75"/><circle cx="220.07" cy="282.55" r="2.75"/><circle cx="221.78" cy="282.8" r="2.75"/><circle cx="223.34" cy="285.22" r="2.75"/><circle cx="224.63" cy="274.25" r="2.75"/><circle cx="225.73" cy="283.45" r="2.75"/><circle cx="226.93" cy="282.33" r="2.75"/><circle cx="228.92" cy="279.76" r="2.75"/><circle cx="230.14" cy="291.18" r="2.75"/><circle cx="231.44" cy="291.32" r="2.75"/><circle cx="232.77" cy="280.38" r="2.75"/><circle cx="233.8" cy="284.21" r="2.75"/><circle cx="235.3" cy="287.43" r="2.75"/><circle cx="237.07" cy="295.45" r="2.75"/><circle cx="238.2" cy="282.73" r="2.75"/><circle cx="239.87" cy="290.51" r="2.75"/><circle cx="241.32" cy="291.19" r="2.75"/><circle cx="242.23" cy="290.8" r="2.75"/><circle cx="243.41" cy="303.4" r="2.75"/><circle cx="245.13" cy="286.67" r="2.75"/><circle cx="246.46" cy="287.99" r="2.75"/><circle cx="247.6" cy="290.98" r="2.75"/><circle cx="249.11" cy="310.92" r="2.75"/><circle cx="250.45" cy="300.89" r="2.75"/><circle cx="251.97" cy="303.68" r="2.75"/><circle cx="253.37" cy="301.45" r="2.75"/><circle cx="254.53" cy="292.16" r="2.75"/><circle cx="256.22" cy="307.14" r="2.75"/><circle cx="257.91" cy="298.44" r="2.75"/><circle cx="258.72" cy="290.1" r="2.75"/><circle cx="260.33" cy="285.48" r="2.75"/><circle cx="261.83" cy="293.93" r="2.75"/><circle cx="263.42" cy="297.8" r="2.75"/><circle cx="264.66" cy="305.22" r="2.75"/><circle cx="266.14" cy="295.34" r="2.75"/><circle cx="267.27" cy="297.85" r="2.75"/><circle cx="268.96" cy="304.58" r="2.75"/><circle cx="269.58" cy="305.96" r="2.75"/><circle cx="271.55" cy="292.13" r="2.75"/><circle cx="273.04" cy="307.76" r="2.75"/><circle cx="274.28" cy="298.06" r="2.75"/><circle cx="275.55" cy="297.53" r="2.75"/><circle cx="276.86" cy="300.82" r="2.75"/><circle cx="278.58" cy="300.07" r="2.75"/><circle cx="279.47" cy="295.85" r="2.75"/><circle cx="281.12" cy="300.65" r="2.75"/><circle cx="282.45" cy="295.11" r="2.75"/><circle cx="283.87" cy="292.67" r="2.75"/><circle cx="285.24" cy="290.11" r="2.75"/><circle cx="286.7" cy="296.63" r="2.75"/><circle cx="287.61" cy="298.98" r="2.75"/><circle cx="289.49" cy="291.62" r="2.75"/><circle cx="290.35" cy="305.61" r="2.75"/><circle cx="292.21" cy="294.02" r="2.75"/><circle cx="293.17" cy="289.95" r="2.75"/><circle cx="294.48" cy="286.99" r="2.75"/><circle cx="295.79" cy="291.32" r="2.75"/><circle cx="297.21" cy="279.19" r="2.75"/><circle cx="298.86" cy="290.72" r="2.75"/><circle cx="300.42" cy="278.85" r="2.75"/><circle cx="301.74" cy="283.42" r="2.75"/><circle cx="302.71" cy="272.21" r="2.75"/><circle cx="304.45" cy="280.45" r="2.75"/><circle cx="305.86" cy="276.93" r="2.75"/><circle cx="307.08" cy="275.43" r="2.75"/><circle cx="308.66" cy="273.82" r="2.75"/><circle cx="310.28" cy="271.72" r="2.75"/><circle cx="311.19" cy="271.58" r="2.75"/><circle cx="312.8" cy="272.33" r="2.75"/><circle cx="313.67" cy="280.56" r="2.75"/><circle cx="315.16" cy="266.93" r="2.75"/><circle cx="316.74" cy="266.47" r="2.75"/><circle cx="318.02" cy="275.78" r="2.75"/><circle cx="319.42" cy="259.19" r="2.75"/><circle cx="320.57" cy="263.14" r="2.75"/><circle cx="322.46" cy="267.51" r="2.75"/><circle cx="323.72" cy="247.91" r="2.75"/><circle cx="325.03" cy="250.7" r="2.75"/><circle cx="326.17" cy="250.26" r="2.75"/><circle cx="327.4" cy="257.84" r="2.75"/><circle cx="329.29" cy="263.63" r="2.75"/><circle cx="330.9" cy="244.97" r="2.75"/><circle cx="331.73" cy="248.14" r="2.75"/><circle cx="333.02" cy="248.92" r="2.75"/><circle cx="334.52" cy="265.51" r="2.75"/><circle cx="336.17" cy="239.67" r="2.75"/><circle cx="337.78" cy="246.32" r="2.75"/><circle cx="339.04" cy="252.65" r="2.75"/><circle cx="340.39" cy="244.22" r="2.75"/><circle cx="341.32" cy="240.75" r="2.75"/><circle cx="342.8" cy="238.04" r="2.75"/><circle cx="344.36" cy="246.91" r="2.75"/><circle cx="345.97" cy="233.16" r="2.75"/><circle cx="346.71" cy="248.56" r="2.75"/><circle cx="348.56" cy="236.4" r="2.75"/><circle cx="350" cy="243.26" r="2.75"/><circle cx="351.57" cy="236.54" r="2.75"/><circle cx="352.59" cy="233.4" r="2.75"/><circle cx="353.8" cy="231.58" r="2.75"/><circle cx="355.01" cy="235.25" r="2.75"/><circle cx="356.45" cy="216.65" r="2.75"/><circle cx="358.47" cy="225.35" r="2.75"/><circle cx="359.11" cy="218.57" r="2.75"/><circle cx="360.6" cy="235.83" r="2.75"/><circle cx="361.83" cy="234.8" r="2.75"/><circle cx="363.89" cy="238.78" r="2.75"/><circle cx="364.92" cy="224.23" r="2.75"/><circle cx="366.49" cy="230.34" r="2.75"/><circle cx="367.67" cy="223.91" r="2.75"/><circle cx="369.06" cy="236.19" r="2.75"/><circle cx="370.75" cy="224.63" r="2.75"/><circle cx="371.6" cy="225.55" r="2.75"/><circle cx="373.2" cy="230.14" r="2.75"/><circle cx="374.5" cy="223.52" r="2.75"/><circle cx="375.67" cy="217.93" r="2.75"/>
</g>
<g fill="#12357d" stroke="#000" stroke-width="0.7">
<circle cx="67.32" cy="361.27" r="2.75"/><circle cx="68.5" cy="370.04" r="2.75"/><circle cx="70.07" cy="377.04" r="2.75"/><circle cx="71.41" cy="363.47" r="2.75"/><circle cx="72.77" cy="376.24" r="2.75"/><circle cx="74.68" cy="355.39" r="2.75"/><circle cx="75.52" cy="374.92" r="2.75"/><circle cx="77.51" cy="365.99" r="2.75"/><circle cx="78.18" cy="367.79" r="2.75"/><circle cx="80.2" cy="363.88" r="2.75"/><circle cx="80.98" cy="360.94" r="2.75"/><circle cx="82.68" cy="356.09" r="2.75"/><circle cx="84.14" cy="360.01" r="2.75"/><circle cx="85.17" cy="368.5" r="2.75"/><circle cx="86.98" cy="366.75" r="2.75"/><circle cx="88.08" cy="357.53" r="2.75"/><circle cx="89.41" cy="355.61" r="2.75"/><circle cx="90.84" cy="353.72" r="2.75"/><circle cx="92.39" cy="349.98" r="2.75"/><circle cx="93.66" cy="366.14" r="2.75"/><circle cx="94.85" cy="358.75" r="2.75"/><circle cx="96.03" cy="354.33" r="2.75"/><circle cx="97.85" cy="349.53" r="2.75"/><circle cx="98.82" cy="345.16" r="2.75"/><circle cx="100.73" cy="357.39" r="2.75"/><circle cx="101.61" cy="353" r="2.75"/><circle cx="103.02" cy="341.6" r="2.75"/><circle cx="104.36" cy="351.66" r="2.75"/><circle cx="106" cy="338.19" r="2.75"/><circle cx="107.51" cy="347.6" r="2.75"/><circle cx="108.94" cy="337.23" r="2.75"/><circle cx="110.06" cy="339.57" r="2.75"/><circle cx="111.38" cy="344.1" r="2.75"/><circle cx="113.16" cy="342.85" r="2.75"/><circle cx="114.17" cy="345.45" r="2.75"/><circle cx="116.09" cy="333.44" r="2.75"/><circle cx="116.9" cy="347.15" r="2.75"/><circle cx="118.81" cy="344.72" r="2.75"/><circle cx="119.44" cy="335.13" r="2.75"/><circle cx="121.34" cy="336.69" r="2.75"/><circle cx="122.48" cy="327.71" r="2.75"/><circle cx="123.75" cy="330.19" r="2.75"/><circle cx="125.02" cy="321.61" r="2.75"/><circle cx="126.76" cy="319.75" r="2.75"/><circle cx="128.32" cy="328.31" r="2.75"/><circle cx="129.56" cy="334.1" r="2.75"/><circle cx="131.17" cy="330.14" r="2.75"/><circle cx="132.51" cy="327.65" r="2.75"/><circle cx="133.63" cy="318.56" r="2.75"/><circle cx="135.15" cy="317.74" r="2.75"/><circle cx="136.65" cy="315.32" r="2.75"/><circle cx="138.07" cy="317.22" r="2.75"/><circle cx="139.03" cy="301.78" r="2.75"/><circle cx="140.73" cy="317.39" r="2.75"/><circle cx="141.99" cy="292.03" r="2.75"/><circle cx="143.54" cy="305.95" r="2.75"/><circle cx="144.68" cy="308.1" r="2.75"/><circle cx="146.34" cy="303.29" r="2.75"/><circle cx="147.48" cy="316.16" r="2.75"/><circle cx="148.56" cy="302.85" r="2.75"/><circle cx="150.08" cy="311.84" r="2.75"/><circle cx="151.27" cy="307.29" r="2.75"/><circle cx="153" cy="294.3" r="2.75"/><circle cx="154.66" cy="298.28" r="2.75"/><circle cx="155.7" cy="302.29" r="2.75"/><circle cx="157.31" cy="289.46" r="2.75"/><circle cx="158.21" cy="290.28" r="2.75"/><circle cx="160.03" cy="283.8" r="2.75"/><circle cx="161.02" cy="285.79" r="2.75"/><circle cx="162.84" cy="280.85" r="2.75"/><circle cx="164.05" cy="281.66" r="2.75"/><circle cx="165.25" cy="285.76" r="2.75"/><circle cx="166.97" cy="286.3" r="2.75"/><circle cx="168.34" cy="275.56" r="2.75"/><circle cx="169.64" cy="273.89" r="2.75"/><circle cx="170.54" cy="276.25" r="2.75"/><circle cx="172.57" cy="266.2" r="2.75"/><circle cx="173.17" cy="259.17" r="2.75"/><circle cx="175.3" cy="272.57" r="2.75"/><circle cx="176.49" cy="266.19" r="2.75"/><circle cx="177.41" cy="268.05" r="2.75"/><circle cx="178.73" cy="253.13" r="2.75"/><circle cx="180.77" cy="271.12" r="2.75"/><circle cx="182.12" cy="249.22" r="2.75"/><circle cx="182.81" cy="260.95" r="2.75"/><circle cx="184.8" cy="263.93" r="2.75"/><circle cx="185.57" cy="244.78" r="2.75"/><circle cx="187.1" cy="260.59" r="2.75"/><circle cx="188.38" cy="242.43" r="2.75"/><circle cx="189.76" cy="242.74" r="2.75"/><circle cx="191.83" cy="250.85" r="2.75"/><circle cx="192.43" cy="249.57" r="2.75"/><circle cx="194.24" cy="241.94" r="2.75"/><circle cx="195.62" cy="224.09" r="2.75"/><circle cx="196.98" cy="240.75" r="2.75"/><circle cx="198.7" cy="237.81" r="2.75"/><circle cx="200.09" cy="236.16" r="2.75"/><circle cx="201.47" cy="235.68" r="2.75"/><circle cx="202.13" cy="223.75" r="2.75"/><circle cx="203.46" cy="231.42" r="2.75"/><circle cx="205.6" cy="247.34" r="2.75"/><circle cx="206.24" cy="244.39" r="2.75"/><circle cx="208.34" cy="229.08" r="2.75"/><circle cx="209.22" cy="224.38" r="2.75"/><circle cx="210.7" cy="230.18" r="2.75"/><circle cx="211.97" cy="232.8" r="2.75"/><circle cx="213.88" cy="228.18" r="2.75"/><circle cx="214.68" cy="212.38" r="2.75"/><circle cx="216.27" cy="219.6" r="2.75"/><circle cx="217.34" cy="216.23" r="2.75"/><circle cx="219.3" cy="222.37" r="2.75"/><circle cx="220.69" cy="217.41" r="2.75"/><circle cx="221.54" cy="209.35" r="2.75"/><circle cx="223.52" cy="223.23" r="2.75"/><circle cx="224.69" cy="223.16" r="2.75"/><circle cx="226.14" cy="238.77" r="2.75"/><circle cx="226.93" cy="226.33" r="2.75"/><circle cx="228.26" cy="233.94" r="2.75"/><circle cx="229.94" cy="239.4" r="2.75"/><circle cx="231.54" cy="228.36" r="2.75"/><circle cx="232.9" cy="233.19" r="2.75"/><circle cx="234.21" cy="228.89" r="2.75"/><circle cx="235.64" cy="246.04" r="2.75"/><circle cx="236.77" cy="247.15" r="2.75"/><circle cx="238.18" cy="247.55" r="2.75"/><circle cx="239.89" cy="255.85" r="2.75"/><circle cx="240.92" cy="239.39" r="2.75"/><circle cx="242.79" cy="256.82" r="2.75"/><circle cx="243.91" cy="257.06" r="2.75"/><circle cx="244.82" cy="251.76" r="2.75"/><circle cx="246.67" cy="256.64" r="2.75"/><circle cx="248.13" cy="267.33" r="2.75"/><circle cx="249.57" cy="258.59" r="2.75"/><circle cx="250.55" cy="260.84" r="2.75"/><circle cx="252.11" cy="260.11" r="2.75"/><circle cx="253.08" cy="261.98" r="2.75"/><circle cx="254.69" cy="262.38" r="2.75"/><circle cx="255.92" cy="248.82" r="2.75"/><circle cx="257.7" cy="259.15" r="2.75"/><circle cx="259.06" cy="243.56" r="2.75"/><circle cx="260.67" cy="255.87" r="2.75"/><circle cx="261.81" cy="251.97" r="2.75"/><circle cx="262.92" cy="251.21" r="2.75"/><circle cx="264.74" cy="262.39" r="2.75"/><circle cx="265.75" cy="243.94" r="2.75"/><circle cx="267.1" cy="243.62" r="2.75"/><circle cx="268.71" cy="247.23" r="2.75"/><circle cx="269.8" cy="248.99" r="2.75"/><circle cx="271.15" cy="232.19" r="2.75"/><circle cx="272.66" cy="243.09" r="2.75"/><circle cx="274.19" cy="235.05" r="2.75"/><circle cx="275.2" cy="244.21" r="2.75"/><circle cx="276.44" cy="248.82" r="2.75"/><circle cx="278.21" cy="238.61" r="2.75"/><circle cx="279.69" cy="236.75" r="2.75"/><circle cx="281.21" cy="238.12" r="2.75"/><circle cx="282.39" cy="214.81" r="2.75"/><circle cx="283.47" cy="249.49" r="2.75"/><circle cx="284.92" cy="238.63" r="2.75"/><circle cx="286.27" cy="234.26" r="2.75"/><circle cx="287.53" cy="228.72" r="2.75"/><circle cx="289.52" cy="224.79" r="2.75"/><circle cx="290.55" cy="227.26" r="2.75"/><circle cx="292.08" cy="235.77" r="2.75"/><circle cx="293" cy="224.79" r="2.75"/><circle cx="294.64" cy="233.72" r="2.75"/><circle cx="295.96" cy="203.99" r="2.75"/><circle cx="297.62" cy="217.69" r="2.75"/><circle cx="298.76" cy="221.46" r="2.75"/><circle cx="300.32" cy="217.88" r="2.75"/><circle cx="301.38" cy="204.51" r="2.75"/><circle cx="303.18" cy="210.37" r="2.75"/><circle cx="304.52" cy="223.33" r="2.75"/><circle cx="305.42" cy="204.2" r="2.75"/><circle cx="307.04" cy="205.54" r="2.75"/><circle cx="308.51" cy="203.95" r="2.75"/><circle cx="310.1" cy="207.05" r="2.75"/><circle cx="311.43" cy="232.18" r="2.75"/><circle cx="313.04" cy="213.65" r="2.75"/><circle cx="313.68" cy="193.93" r="2.75"/><circle cx="315.11" cy="218.23" r="2.75"/><circle cx="316.39" cy="202.63" r="2.75"/><circle cx="317.92" cy="201.83" r="2.75"/><circle cx="319.87" cy="217.25" r="2.75"/><circle cx="320.77" cy="203.58" r="2.75"/><circle cx="322.26" cy="194.01" r="2.75"/><circle cx="323.94" cy="197.1" r="2.75"/><circle cx="324.65" cy="195.23" r="2.75"/><circle cx="326.7" cy="191.96" r="2.75"/><circle cx="327.76" cy="195.59" r="2.75"/><circle cx="328.93" cy="203.07" r="2.75"/><circle cx="330.84" cy="198.04" r="2.75"/><circle cx="332.13" cy="184.34" r="2.75"/><circle cx="333.02" cy="213.11" r="2.75"/><circle cx="334.32" cy="184.68" r="2.75"/><circle cx="335.92" cy="191.41" r="2.75"/><circle cx="337.82" cy="189.56" r="2.75"/><circle cx="338.85" cy="193.47" r="2.75"/><circle cx="339.86" cy="184.24" r="2.75"/><circle cx="341.7" cy="188.52" r="2.75"/><circle cx="342.86" cy="199.02" r="2.75"/><circle cx="344.47" cy="183.17" r="2.75"/><circle cx="345.5" cy="173.3" r="2.75"/><circle cx="347.03" cy="182.09" r="2.75"/><circle cx="348.3" cy="172.56" r="2.75"/><circle cx="349.6" cy="174.3" r="2.75"/><circle cx="351.56" cy="176.95" r="2.75"/><circle cx="352.75" cy="176.64" r="2.75"/><circle cx="354.31" cy="170.79" r="2.75"/><circle cx="355.31" cy="177.63" r="2.75"/><circle cx="356.85" cy="169.38" r="2.75"/><circle cx="357.7" cy="160.62" r="2.75"/><circle cx="359.83" cy="175.58" r="2.75"/><circle cx="360.48" cy="165.88" r="2.75"/><circle cx="362.18" cy="176.48" r="2.75"/><circle cx="363.37" cy="162.28" r="2.75"/><circle cx="365.07" cy="170.36" r="2.75"/><circle cx="366.54" cy="167.75" r="2.75"/><circle cx="367.5" cy="145.31" r="2.75"/><circle cx="369.4" cy="153.22" r="2.75"/><circle cx="370.2" cy="155.15" r="2.75"/><circle cx="372.12" cy="172.58" r="2.75"/><circle cx="372.86" cy="147.08" r="2.75"/><circle cx="374.81" cy="163.92" r="2.75"/><circle cx="375.78" cy="161.86" r="2.75"/>
</g>
<g fill="#e37b7b" stroke="#000" stroke-width="0.7">
<circle cx="67.37" cy="436.77" r="3.5"/><circle cx="68.78" cy="429.96" r="3.5"/><circle cx="70.61" cy="436.58" r="3.5"/><circle cx="71.41" cy="428.81" r="3.5"/><circle cx="73.15" cy="435.74" r="3.5"/><circle cx="74.62" cy="436.32" r="3.5"/><circle cx="75.89" cy="427.94" r="3.5"/><circle cx="77.46" cy="422.78" r="3.5"/><circle cx="78.46" cy="423.36" r="3.5"/><circle cx="79.74" cy="425.05" r="3.5"/><circle cx="81.11" cy="424.05" r="3.5"/><circle cx="82.73" cy="422.17" r="3.5"/><circle cx="84.39" cy="421.21" r="3.5"/><circle cx="85.71" cy="425.94" r="3.5"/><circle cx="86.76" cy="415.79" r="3.5"/><circle cx="88.09" cy="411.3" r="3.5"/><circle cx="89.38" cy="406.81" r="3.5"/><circle cx="90.63" cy="416.63" r="3.5"/><circle cx="92.33" cy="413.83" r="3.5"/><circle cx="93.33" cy="409.92" r="3.5"/><circle cx="94.96" cy="412.22" r="3.5"/><circle cx="96.39" cy="412.54" r="3.5"/><circle cx="97.43" cy="408.26" r="3.5"/><circle cx="99.04" cy="398.68" r="3.5"/><circle cx="100.95" cy="407.63" r="3.5"/><circle cx="101.68" cy="398.79" r="3.5"/><circle cx="103.62" cy="403.1" r="3.5"/><circle cx="104.61" cy="399.36" r="3.5"/><circle cx="106.09" cy="401.46" r="3.5"/><circle cx="107.23" cy="405.73" r="3.5"/><circle cx="108.59" cy="401.8" r="3.5"/><circle cx="110.3" cy="408.07" r="3.5"/><circle cx="111.47" cy="396.16" r="3.5"/><circle cx="113.27" cy="394.11" r="3.5"/><circle cx="114.24" cy="399.11" r="3.5"/><circle cx="115.57" cy="393.99" r="3.5"/><circle cx="116.8" cy="395.39" r="3.5"/><circle cx="118.19" cy="395.28" r="3.5"/><circle cx="119.72" cy="388.04" r="3.5"/><circle cx="121.46" cy="385.39" r="3.5"/><circle cx="122.89" cy="390.19" r="3.5"/><circle cx="124.33" cy="390.59" r="3.5"/><circle cx="125.19" cy="388.87" r="3.5"/><circle cx="126.58" cy="389.69" r="3.5"/><circle cx="128.4" cy="384.46" r="3.5"/><circle cx="129.71" cy="385.01" r="3.5"/><circle cx="130.94" cy="379.84" r="3.5"/><circle cx="132.52" cy="386.81" r="3.5"/><circle cx="133.98" cy="382.24" r="3.5"/><circle cx="134.9" cy="385.16" r="3.5"/><circle cx="135.97" cy="376.65" r="3.5"/><circle cx="138.02" cy="376.64" r="3.5"/><circle cx="138.8" cy="374.82" r="3.5"/><circle cx="140.29" cy="374.31" r="3.5"/><circle cx="141.92" cy="374.6" r="3.5"/><circle cx="143.37" cy="363.42" r="3.5"/><circle cx="144.81" cy="372.62" r="3.5"/><circle cx="146.14" cy="367.64" r="3.5"/><circle cx="147.77" cy="367.08" r="3.5"/><circle cx="148.94" cy="369.75" r="3.5"/><circle cx="150.34" cy="359.3" r="3.5"/><circle cx="151.64" cy="360.41" r="3.5"/><circle cx="152.6" cy="363.84" r="3.5"/><circle cx="154.47" cy="365.34" r="3.5"/><circle cx="155.45" cy="360.27" r="3.5"/><circle cx="156.95" cy="351.21" r="3.5"/><circle cx="158.41" cy="360.78" r="3.5"/><circle cx="159.64" cy="351.94" r="3.5"/><circle cx="160.96" cy="351.76" r="3.5"/><circle cx="162.37" cy="356.87" r="3.5"/><circle cx="163.75" cy="350.49" r="3.5"/><circle cx="165.45" cy="348.92" r="3.5"/><circle cx="166.81" cy="348.05" r="3.5"/><circle cx="168.39" cy="347.9" r="3.5"/><circle cx="169.66" cy="343.45" r="3.5"/><circle cx="170.44" cy="345.01" r="3.5"/><circle cx="172.29" cy="338.45" r="3.5"/><circle cx="173.54" cy="343.32" r="3.5"/><circle cx="175.08" cy="336.26" r="3.5"/><circle cx="175.92" cy="339.69" r="3.5"/><circle cx="177.98" cy="340.44" r="3.5"/><circle cx="179.37" cy="337.67" r="3.5"/><circle cx="180.13" cy="333.44" r="3.5"/><circle cx="181.71" cy="323.39" r="3.5"/><circle cx="183.04" cy="321.26" r="3.5"/><circle cx="184.57" cy="327.74" r="3.5"/><circle cx="185.66" cy="325.94" r="3.5"/><circle cx="187.4" cy="323.94" r="3.5"/><circle cx="188.66" cy="319.8" r="3.5"/><circle cx="190.43" cy="319.61" r="3.5"/><circle cx="191.44" cy="322.81" r="3.5"/><circle cx="192.43" cy="317.78" r="3.5"/><circle cx="194.55" cy="309.98" r="3.5"/><circle cx="195.4" cy="317.25" r="3.5"/><circle cx="196.71" cy="306.25" r="3.5"/><circle cx="198.67" cy="315.46" r="3.5"/><circle cx="199.72" cy="316.59" r="3.5"/><circle cx="201.49" cy="313.58" r="3.5"/><circle cx="202.21" cy="309.98" r="3.5"/><circle cx="203.92" cy="306.33" r="3.5"/><circle cx="205.61" cy="308.93" r="3.5"/><circle cx="206.7" cy="308.09" r="3.5"/><circle cx="207.77" cy="315.07" r="3.5"/><circle cx="209.57" cy="309.24" r="3.5"/><circle cx="210.35" cy="310.56" r="3.5"/><circle cx="212.15" cy="305.63" r="3.5"/><circle cx="213.41" cy="308.15" r="3.5"/><circle cx="214.53" cy="309.92" r="3.5"/><circle cx="216.6" cy="308.53" r="3.5"/><circle cx="217.73" cy="311.07" r="3.5"/><circle cx="218.99" cy="308.53" r="3.5"/><circle cx="220.75" cy="314.53" r="3.5"/><circle cx="221.64" cy="308.63" r="3.5"/><circle cx="223.45" cy="313.07" r="3.5"/><circle cx="224.36" cy="309.73" r="3.5"/><circle cx="226.15" cy="310.71" r="3.5"/><circle cx="227.26" cy="311.22" r="3.5"/><circle cx="228.27" cy="321.8" r="3.5"/><circle cx="230.04" cy="312.18" r="3.5"/><circle cx="231.71" cy="319.43" r="3.5"/><circle cx="232.53" cy="324.38" r="3.5"/><circle cx="234.39" cy="316.21" r="3.5"/><circle cx="235.17" cy="317.35" r="3.5"/><circle cx="236.75" cy="314.39" r="3.5"/><circle cx="238.29" cy="320.6" r="3.5"/><circle cx="239.8" cy="323.48" r="3.5"/><circle cx="241.36" cy="324.16" r="3.5"/><circle cx="242.48" cy="325.43" r="3.5"/><circle cx="244.16" cy="327.72" r="3.5"/><circle cx="245.38" cy="321.59" r="3.5"/><circle cx="246.43" cy="330.7" r="3.5"/><circle cx="248.07" cy="336.99" r="3.5"/><circle cx="249.11" cy="333.5" r="3.5"/><circle cx="250.98" cy="333.25" r="3.5"/><circle cx="252.03" cy="340.23" r="3.5"/><circle cx="253.52" cy="321.18" r="3.5"/><circle cx="255.15" cy="328.71" r="3.5"/><circle cx="256.1" cy="336.82" r="3.5"/><circle cx="257.7" cy="338.83" r="3.5"/><circle cx="258.82" cy="337.6" r="3.5"/><circle cx="260.17" cy="337.55" r="3.5"/><circle cx="261.92" cy="336.3" r="3.5"/><circle cx="263.05" cy="331.8" r="3.5"/><circle cx="264.13" cy="333.09" r="3.5"/><circle cx="266.16" cy="329.88" r="3.5"/><circle cx="267.3" cy="323.36" r="3.5"/><circle cx="268.58" cy="330.19" r="3.5"/><circle cx="269.88" cy="319.3" r="3.5"/><circle cx="271.06" cy="328.1" r="3.5"/><circle cx="273.02" cy="325.26" r="3.5"/><circle cx="273.72" cy="324.73" r="3.5"/><circle cx="275.29" cy="322.88" r="3.5"/><circle cx="276.87" cy="320.43" r="3.5"/><circle cx="278.35" cy="316.43" r="3.5"/><circle cx="279.87" cy="317.14" r="3.5"/><circle cx="280.9" cy="318.08" r="3.5"/><circle cx="282.01" cy="315.61" r="3.5"/><circle cx="283.64" cy="308.88" r="3.5"/><circle cx="285.28" cy="314.62" r="3.5"/><circle cx="286.4" cy="315.34" r="3.5"/><circle cx="288.11" cy="317.5" r="3.5"/><circle cx="289.52" cy="307.14" r="3.5"/><circle cx="290.31" cy="315.94" r="3.5"/><circle cx="291.95" cy="309.42" r="3.5"/><circle cx="292.98" cy="309.82" r="3.5"/><circle cx="294.77" cy="309.76" r="3.5"/><circle cx="296.28" cy="308.44" r="3.5"/><circle cx="297.34" cy="310.05" r="3.5"/><circle cx="298.96" cy="303.15" r="3.5"/><circle cx="300.14" cy="299.09" r="3.5"/><circle cx="302.01" cy="306.15" r="3.5"/><circle cx="303.32" cy="297" r="3.5"/><circle cx="304.68" cy="298.59" r="3.5"/><circle cx="305.44" cy="296.74" r="3.5"/><circle cx="307.22" cy="305.64" r="3.5"/><circle cx="308.78" cy="296.75" r="3.5"/><circle cx="310.16" cy="300.56" r="3.5"/><circle cx="311.44" cy="296.16" r="3.5"/><circle cx="312.99" cy="293.5" r="3.5"/><circle cx="313.76" cy="294.76" r="3.5"/><circle cx="315.14" cy="291.5" r="3.5"/><circle cx="316.96" cy="290.98" r="3.5"/><circle cx="318.35" cy="291.92" r="3.5"/><circle cx="319.23" cy="289.31" r="3.5"/><circle cx="320.83" cy="286.67" r="3.5"/><circle cx="322.56" cy="291.59" r="3.5"/><circle cx="323.9" cy="281.4" r="3.5"/><circle cx="325.31" cy="278.06" r="3.5"/><circle cx="326.34" cy="279.57" r="3.5"/><circle cx="327.8" cy="281.35" r="3.5"/><circle cx="329.04" cy="277.17" r="3.5"/><circle cx="330.84" cy="283.47" r="3.5"/><circle cx="332.1" cy="279.15" r="3.5"/><circle cx="333.02" cy="281.43" r="3.5"/><circle cx="334.87" cy="279.28" r="3.5"/><circle cx="335.99" cy="276.38" r="3.5"/><circle cx="337.78" cy="282.91" r="3.5"/><circle cx="338.65" cy="279.29" r="3.5"/><circle cx="339.96" cy="278.45" r="3.5"/><circle cx="341.71" cy="270.32" r="3.5"/><circle cx="343.29" cy="277.37" r="3.5"/><circle cx="343.98" cy="277.92" r="3.5"/><circle cx="345.3" cy="267.68" r="3.5"/><circle cx="347.14" cy="265.62" r="3.5"/><circle cx="348.24" cy="265.43" r="3.5"/><circle cx="349.78" cy="270.68" r="3.5"/><circle cx="350.98" cy="265.54" r="3.5"/><circle cx="352.77" cy="266.33" r="3.5"/><circle cx="354.19" cy="267.73" r="3.5"/><circle cx="355.49" cy="266.8" r="3.5"/><circle cx="357" cy="268.58" r="3.5"/><circle cx="357.8" cy="259.22" r="3.5"/><circle cx="359.25" cy="265.47" r="3.5"/><circle cx="361.13" cy="256.85" r="3.5"/><circle cx="362.02" cy="264.11" r="3.5"/><circle cx="363.3" cy="268.27" r="3.5"/><circle cx="364.81" cy="254.54" r="3.5"/><circle cx="365.99" cy="258.21" r="3.5"/><circle cx="368.11" cy="252.19" r="3.5"/><circle cx="369.46" cy="255.43" r="3.5"/><circle cx="370.4" cy="259.81" r="3.5"/><circle cx="371.7" cy="257.18" r="3.5"/><circle cx="373.36" cy="255.35" r="3.5"/><circle cx="374.92" cy="253.78" r="3.5"/><circle cx="375.91" cy="252.18" r="3.5"/>
</g>
<g fill="#5557ad" stroke="#000" stroke-width="0.7">
<circle cx="67.25" cy="463.27" r="3.5"/><circle cx="68.88" cy="452.59" r="3.5"/><circle cx="70.52" cy="455.99" r="3.5"/><circle cx="71.4" cy="448.16" r="3.5"/><circle cx="73.18" cy="446.7" r="3.5"/><circle cx="74.57" cy="450.72" r="3.5"/><circle cx="75.9" cy="452.63" r="3.5"/><circle cx="77.53" cy="446.21" r="3.5"/><circle cx="78.61" cy="443.4" r="3.5"/><circle cx="79.56" cy="449.68" r="3.5"/><circle cx="81.29" cy="445.39" r="3.5"/><circle cx="82.79" cy="441.6" r="3.5"/><circle cx="83.7" cy="446.32" r="3.5"/><circle cx="85.2" cy="440.65" r="3.5"/><circle cx="87.09" cy="446.03" r="3.5"/><circle cx="88.55" cy="444.35" r="3.5"/><circle cx="89.21" cy="436.66" r="3.5"/><circle cx="90.73" cy="438.9" r="3.5"/><circle cx="92.14" cy="433.36" r="3.5"/><circle cx="93.5" cy="427.01" r="3.5"/><circle cx="95.04" cy="418.62" r="3.5"/><circle cx="96.48" cy="428.54" r="3.5"/><circle cx="97.67" cy="422.7" r="3.5"/><circle cx="98.93" cy="423.15" r="3.5"/><circle cx="100.22" cy="430.01" r="3.5"/><circle cx="101.57" cy="424.67" r="3.5"/><circle cx="103.45" cy="417.61" r="3.5"/><circle cx="104.9" cy="422.03" r="3.5"/><circle cx="105.83" cy="417.08" r="3.5"/><circle cx="107.35" cy="427.97" r="3.5"/><circle cx="109.2" cy="422.25" r="3.5"/><circle cx="110.53" cy="414.8" r="3.5"/><circle cx="111.63" cy="415.31" r="3.5"/><circle cx="112.72" cy="418.69" r="3.5"/><circle cx="114.53" cy="413.55" r="3.5"/><circle cx="115.9" cy="407.72" r="3.5"/><circle cx="116.74" cy="414.97" r="3.5"/><circle cx="118.07" cy="407.35" r="3.5"/><circle cx="119.48" cy="406.28" r="3.5"/><circle cx="121.4" cy="402.78" r="3.5"/><circle cx="122.73" cy="407.97" r="3.5"/><circle cx="123.67" cy="409.91" r="3.5"/><circle cx="125.67" cy="401.38" r="3.5"/><circle cx="126.96" cy="404.6" r="3.5"/><circle cx="127.74" cy="402.5" r="3.5"/><circle cx="129.57" cy="397.05" r="3.5"/><circle cx="130.69" cy="398.45" r="3.5"/><circle cx="132.03" cy="396.46" r="3.5"/><circle cx="133.31" cy="385.93" r="3.5"/><circle cx="135.21" cy="399.26" r="3.5"/><circle cx="136.64" cy="386" r="3.5"/><circle cx="137.36" cy="393.23" r="3.5"/><circle cx="139.02" cy="389.52" r="3.5"/><circle cx="140.22" cy="386.15" r="3.5"/><circle cx="141.6" cy="382.16" r="3.5"/><circle cx="143.61" cy="388.09" r="3.5"/><circle cx="144.75" cy="381.22" r="3.5"/><circle cx="145.98" cy="378.92" r="3.5"/><circle cx="147.48" cy="376.76" r="3.5"/><circle cx="148.96" cy="374.57" r="3.5"/><circle cx="150.33" cy="367.4" r="3.5"/><circle cx="151.37" cy="380.72" r="3.5"/><circle cx="153.13" cy="378.97" r="3.5"/><circle cx="153.88" cy="369.36" r="3.5"/><circle cx="155.67" cy="374.07" r="3.5"/><circle cx="156.89" cy="375.99" r="3.5"/><circle cx="158.43" cy="371.09" r="3.5"/><circle cx="159.66" cy="368.9" r="3.5"/><circle cx="161.4" cy="365.47" r="3.5"/><circle cx="162.13" cy="361.8" r="3.5"/><circle cx="164.12" cy="362.19" r="3.5"/><circle cx="165.07" cy="359.22" r="3.5"/><circle cx="166.53" cy="359.06" r="3.5"/><circle cx="167.7" cy="348.57" r="3.5"/><circle cx="169.14" cy="353.67" r="3.5"/><circle cx="170.42" cy="344.86" r="3.5"/><circle cx="172.45" cy="352.32" r="3.5"/><circle cx="173.49" cy="355.02" r="3.5"/><circle cx="174.79" cy="348.25" r="3.5"/><circle cx="175.95" cy="341.51" r="3.5"/><circle cx="177.38" cy="342.81" r="3.5"/><circle cx="179.02" cy="340.3" r="3.5"/><circle cx="180.2" cy="339.47" r="3.5"/><circle cx="181.45" cy="332.75" r="3.5"/><circle cx="183.32" cy="341.1" r="3.5"/><circle cx="184.36" cy="336.25" r="3.5"/><circle cx="186.28" cy="327.59" r="3.5"/><circle cx="187.66" cy="337.13" r="3.5"/><circle cx="188.71" cy="327.48" r="3.5"/><circle cx="190.29" cy="325.13" r="3.5"/><circle cx="191.56" cy="323.99" r="3.5"/><circle cx="192.95" cy="326.55" r="3.5"/><circle cx="193.98" cy="322.03" r="3.5"/><circle cx="195.79" cy="319.89" r="3.5"/><circle cx="197.27" cy="320.19" r="3.5"/><circle cx="198.51" cy="323.35" r="3.5"/><circle cx="199.66" cy="323.17" r="3.5"/><circle cx="200.79" cy="319.95" r="3.5"/><circle cx="202.83" cy="312.12" r="3.5"/><circle cx="203.93" cy="307.59" r="3.5"/><circle cx="205.31" cy="316.26" r="3.5"/><circle cx="206.33" cy="309.3" r="3.5"/><circle cx="208.34" cy="306.97" r="3.5"/><circle cx="209.18" cy="300.96" r="3.5"/><circle cx="210.64" cy="305.63" r="3.5"/><circle cx="211.98" cy="298.36" r="3.5"/><circle cx="213.86" cy="303.44" r="3.5"/><circle cx="214.54" cy="294.94" r="3.5"/><circle cx="216.53" cy="300.45" r="3.5"/><circle cx="217.73" cy="298.09" r="3.5"/><circle cx="219.09" cy="291.5" r="3.5"/><circle cx="220.5" cy="302.44" r="3.5"/><circle cx="221.94" cy="301.43" r="3.5"/><circle cx="222.84" cy="291.18" r="3.5"/><circle cx="224.16" cy="288.86" r="3.5"/><circle cx="225.54" cy="291.43" r="3.5"/><circle cx="227.17" cy="288.99" r="3.5"/><circle cx="228.3" cy="294.52" r="3.5"/><circle cx="230.2" cy="286.51" r="3.5"/><circle cx="231.42" cy="283.77" r="3.5"/><circle cx="232.43" cy="293.19" r="3.5"/><circle cx="233.8" cy="295.18" r="3.5"/><circle cx="235.57" cy="294.02" r="3.5"/><circle cx="237.08" cy="287.34" r="3.5"/><circle cx="238.4" cy="293.03" r="3.5"/><circle cx="239.66" cy="285.32" r="3.5"/><circle cx="241.33" cy="296.75" r="3.5"/><circle cx="242.75" cy="299.58" r="3.5"/><circle cx="243.75" cy="289.89" r="3.5"/><circle cx="245.48" cy="292.89" r="3.5"/><circle cx="246.34" cy="297.19" r="3.5"/><circle cx="247.83" cy="296.36" r="3.5"/><circle cx="249.45" cy="290.5" r="3.5"/><circle cx="250.41" cy="290.56" r="3.5"/><circle cx="252.44" cy="294.41" r="3.5"/><circle cx="253.73" cy="278.9" r="3.5"/><circle cx="255.09" cy="294.87" r="3.5"/><circle cx="256.15" cy="291.64" r="3.5"/><circle cx="257.42" cy="288.72" r="3.5"/><circle cx="258.7" cy="291.69" r="3.5"/><circle cx="260.22" cy="292.83" r="3.5"/><circle cx="261.92" cy="280.72" r="3.5"/><circle cx="262.75" cy="281.44" r="3.5"/><circle cx="264.21" cy="288.12" r="3.5"/><circle cx="265.7" cy="276.11" r="3.5"/><circle cx="267.07" cy="285.2" r="3.5"/><circle cx="268.68" cy="284.31" r="3.5"/><circle cx="270.23" cy="284.01" r="3.5"/><circle cx="270.99" cy="285.8" r="3.5"/><circle cx="272.38" cy="288.87" r="3.5"/><circle cx="274.31" cy="286.89" r="3.5"/><circle cx="275.59" cy="284.59" r="3.5"/><circle cx="276.69" cy="293.56" r="3.5"/><circle cx="278.03" cy="279.67" r="3.5"/><circle cx="279.23" cy="282.01" r="3.5"/><circle cx="280.96" cy="289.51" r="3.5"/><circle cx="282.62" cy="293.5" r="3.5"/><circle cx="283.37" cy="284.73" r="3.5"/><circle cx="284.91" cy="293.62" r="3.5"/><circle cx="286.15" cy="283.58" r="3.5"/><circle cx="287.92" cy="280.91" r="3.5"/><circle cx="288.88" cy="283.83" r="3.5"/><circle cx="290.45" cy="288.06" r="3.5"/><circle cx="291.8" cy="284.18" r="3.5"/><circle cx="293.71" cy="281.02" r="3.5"/><circle cx="295.09" cy="278.76" r="3.5"/><circle cx="296" cy="291.96" r="3.5"/><circle cx="297.53" cy="284.6" r="3.5"/><circle cx="298.62" cy="276.25" r="3.5"/><circle cx="300.15" cy="286.12" r="3.5"/><circle cx="301.82" cy="282.54" r="3.5"/><circle cx="302.9" cy="282.25" r="3.5"/><circle cx="304.12" cy="277.93" r="3.5"/><circle cx="305.89" cy="280.6" r="3.5"/><circle cx="307.44" cy="276.7" r="3.5"/><circle cx="308.84" cy="270.38" r="3.5"/><circle cx="309.63" cy="276.36" r="3.5"/><circle cx="311.48" cy="274.27" r="3.5"/><circle cx="312.99" cy="266.67" r="3.5"/><circle cx="313.65" cy="268.72" r="3.5"/><circle cx="315.52" cy="271.13" r="3.5"/><circle cx="317.09" cy="275.31" r="3.5"/><circle cx="318.37" cy="265.14" r="3.5"/><circle cx="319.82" cy="263" r="3.5"/><circle cx="320.7" cy="267.09" r="3.5"/><circle cx="322.6" cy="262.82" r="3.5"/><circle cx="323.48" cy="268.67" r="3.5"/><circle cx="324.65" cy="263.6" r="3.5"/><circle cx="326.1" cy="255.03" r="3.5"/><circle cx="327.7" cy="268.57" r="3.5"/><circle cx="329.07" cy="269.43" r="3.5"/><circle cx="330.38" cy="260.19" r="3.5"/><circle cx="331.91" cy="266.78" r="3.5"/><circle cx="333.3" cy="262.71" r="3.5"/><circle cx="334.37" cy="257.02" r="3.5"/><circle cx="336.1" cy="258.42" r="3.5"/><circle cx="337.43" cy="264.63" r="3.5"/><circle cx="338.74" cy="260.26" r="3.5"/><circle cx="340.18" cy="247.44" r="3.5"/><circle cx="341.91" cy="258.08" r="3.5"/><circle cx="343.27" cy="256.02" r="3.5"/><circle cx="344.26" cy="245.65" r="3.5"/><circle cx="345.35" cy="255.06" r="3.5"/><circle cx="346.83" cy="253.29" r="3.5"/><circle cx="348.27" cy="245.07" r="3.5"/><circle cx="349.79" cy="248.54" r="3.5"/><circle cx="351" cy="246.19" r="3.5"/><circle cx="352.46" cy="251.73" r="3.5"/><circle cx="353.61" cy="250.03" r="3.5"/><circle cx="355.35" cy="243.77" r="3.5"/><circle cx="356.71" cy="244.88" r="3.5"/><circle cx="357.87" cy="241.4" r="3.5"/><circle cx="359.56" cy="247.3" r="3.5"/><circle cx="361.25" cy="241.28" r="3.5"/><circle cx="362.57" cy="243.61" r="3.5"/><circle cx="363.51" cy="240.56" r="3.5"/><circle cx="364.63" cy="230.97" r="3.5"/><circle cx="366.3" cy="230.59" r="3.5"/><circle cx="367.38" cy="227.86" r="3.5"/><circle cx="369.13" cy="231.54" r="3.5"/><circle cx="370.5" cy="228.83" r="3.5"/><circle cx="371.72" cy="225.78" r="3.5"/><circle cx="372.93" cy="223.3" r="3.5"/><circle cx="374.6" cy="229.34" r="3.5"/><circle cx="375.97" cy="223.33" r="3.5"/>
</g>
<polyline points="67.4,448.8 70,449.92 72.6,451.04 75.2,452.16 77.8,449.47 80.4,445.09 83,440.71 85.6,441.72 88.2,443.44 90.8,444.99 93.4,442.22 96,439.45 98.6,436.68 101.2,433.92 103.8,431.15 106.4,428.38 109,425.61 111.6,422.7 114.2,419.78 116.8,416.87 119.4,414.3 122,413.64 124.6,412.99 127.2,412.34 129.8,411.68 132.4,411.03 135,411.04 137.6,411.73 140.2,410.01 142.8,406.78 145.4,403.55 148,400.32 150.6,397.84 153.2,395.53 155.8,393.22 158.4,391 161,391 163.6,391 166.2,391 168.8,390.54 171.4,388.81 174,387.09 176.6,385.37 179.2,383.65 181.8,381.93 184.4,378.09 187,372.7 189.6,367.31 192.2,365.7 194.8,364.4 197.4,363.1 200,361.8 202.6,360.5 205.2,358.78 207.8,355.65 210.4,352.52 213,349.39 215.6,346.26 218.2,345.03 220.8,345.68 223.4,346.34 226,346.99 228.6,347.64 231.2,348.3 233.8,350.3 236.4,352.54 239,354.78 241.6,357.02 244.2,359 246.8,359 249.4,359 252,359 254.6,358.75 257.2,358.04 259.8,357.33 262.4,355.76 265,353.45 267.6,351.15 270.2,348.84 272.8,346.53 275.4,343.22 278,339.6 280.6,335.99 283.2,334.02 285.8,333.08 288.4,332.14 291,332.36 293.6,330.99 296.2,326.07 298.8,323.75 301.4,319.22 304,314.55 306.6,312.43 309.2,311.15 311.8,306.68 314.4,305.73 317,302.53 319.6,299.37 322.2,297.42 324.8,295.13 327.4,293.01 330,290.65 332.6,287.1 335.2,284.25 337.8,279.59 340.4,278.23 343,275.59 345.6,272.35 348.2,268.03 350.8,265.66 353.4,262.76 356,261.2 358.6,257.12 361.2,253.78 363.8,253.29 366.4,250.16 369,247.54 371.6,245.05 374.2,240.66 376.8,239.2 379.4,237.28 382,233.99 384.6,232.46 387.2,228.41 389.8,227.63 392.4,225.2 395,221.86 397.6,219.92 400.2,217.67 402.8,215.37 405.4,213.3 408,211.71 410.6,210.26 413.2,208.48 415.8,205.22 418.4,203.85 421,202.94 423.6,200.48 426.2,198.13 428.8,194.77 431.4,194.41 434,190.1 436.6,188.22 439.2,185.21 441.8,183.84 444.4,179.9 447,179.13 449.6,175.97 452.2,170.72 454.8,167.63 457.4,164.77 460,162.08 462.6,157.34 465.2,153.34 467.4,148.8" fill="none" stroke="#b0559f" stroke-width="5.4" stroke-linejoin="round"/>
<polyline points="67.4,494.2 74.7,491.8 95.6,469.7 110.4,473.4 133.7,448.8 147.2,446.3 159.5,435.3 171.8,431.6 187.4,411.1 197.2,403 208.3,400 220.5,399.3 232.8,395.8 245.1,408.6 257.4,416.5 270.9,406.7 282,403.7 294.3,416" fill="none" stroke="#000" stroke-width="5.8" stroke-linejoin="miter"/>
<g stroke="#000" stroke-width="1.35" fill="none">
<rect x="67.5" y="15.4" width="400.5" height="504.3"/>
<path d="M82.9 519.7v-3M82.9 15.4v3M98.31 519.7v-3M98.31 15.4v3M113.71 519.7v-3M113.71 15.4v3M129.12 519.7v-5.8M129.12 15.4v5.8M144.52 519.7v-3M144.52 15.4v3M159.92 519.7v-3M159.92 15.4v3M175.33 519.7v-3M175.33 15.4v3M190.73 519.7v-5.8M190.73 15.4v5.8M206.13 519.7v-3M206.13 15.4v3M221.54 519.7v-3M221.54 15.4v3M236.94 519.7v-3M236.94 15.4v3M252.35 519.7v-5.8M252.35 15.4v5.8M267.75 519.7v-3M267.75 15.4v3M283.15 519.7v-3M283.15 15.4v3M298.56 519.7v-3M298.56 15.4v3M313.96 519.7v-5.8M313.96 15.4v5.8M329.37 519.7v-3M329.37 15.4v3M344.77 519.7v-3M344.77 15.4v3M360.17 519.7v-3M360.17 15.4v3M375.58 519.7v-5.8M375.58 15.4v5.8M390.98 519.7v-3M390.98 15.4v3M406.38 519.7v-3M406.38 15.4v3M421.79 519.7v-3M421.79 15.4v3M437.19 519.7v-5.8M437.19 15.4v5.8M452.6 519.7v-3M452.6 15.4v3M67.5 507.83h3.1M468 507.83h-3.1M67.5 495.96h3.1M468 495.96h-3.1M67.5 484.08h3.1M468 484.08h-3.1M67.5 472.21h3.1M468 472.21h-3.1M67.5 460.34h6M468 460.34h-6M67.5 448.47h3.1M468 448.47h-3.1M67.5 436.59h3.1M468 436.59h-3.1M67.5 424.72h3.1M468 424.72h-3.1M67.5 412.85h3.1M468 412.85h-3.1M67.5 400.98h6M468 400.98h-6M67.5 389.1h3.1M468 389.1h-3.1M67.5 377.23h3.1M468 377.23h-3.1M67.5 365.36h3.1M468 365.36h-3.1M67.5 353.49h3.1M468 353.49h-3.1M67.5 341.61h6M468 341.61h-6M67.5 329.74h3.1M468 329.74h-3.1M67.5 317.87h3.1M468 317.87h-3.1M67.5 305.99h3.1M468 305.99h-3.1M67.5 294.12h3.1M468 294.12h-3.1M67.5 282.25h6M468 282.25h-6M67.5 270.38h3.1M468 270.38h-3.1M67.5 258.51h3.1M468 258.51h-3.1M67.5 246.63h3.1M468 246.63h-3.1M67.5 234.76h3.1M468 234.76h-3.1M67.5 222.89h6M468 222.89h-6M67.5 211.02h3.1M468 211.02h-3.1M67.5 199.14h3.1M468 199.14h-3.1M67.5 187.27h3.1M468 187.27h-3.1M67.5 175.4h3.1M468 175.4h-3.1M67.5 163.53h6M468 163.53h-6M67.5 151.65h3.1M468 151.65h-3.1M67.5 139.78h3.1M468 139.78h-3.1M67.5 127.91h3.1M468 127.91h-3.1M67.5 116.04h3.1M468 116.04h-3.1M67.5 104.16h6M468 104.16h-6M67.5 92.29h3.1M468 92.29h-3.1M67.5 80.42h3.1M468 80.42h-3.1M67.5 68.55h3.1M468 68.55h-3.1M67.5 56.67h3.1M468 56.67h-3.1M67.5 44.8h6M468 44.8h-6M67.5 32.93h3.1M468 32.93h-3.1M67.5 21.06h3.1M468 21.06h-3.1"/>
</g>
<g font-family='"Liberation Sans", "Noto Sans CJK SC", sans-serif' font-size="17.8" fill="#000">
<text x="28.1" y="523.6">0.11</text>
<text x="28.1" y="464.24">0.12</text>
<text x="28.1" y="404.88">0.13</text>
<text x="28.1" y="345.51">0.14</text>
<text x="28.1" y="286.15">0.15</text>
<text x="28.1" y="226.79">0.16</text>
<text x="28.1" y="167.43">0.17</text>
<text x="28.1" y="108.06">0.18</text>
<text x="28.1" y="48.7">0.19</text>
<text x="72.2" y="539" text-anchor="middle">2.2</text>
<text x="133.6" y="539" text-anchor="middle">2.4</text>
<text x="195.1" y="539" text-anchor="middle">2.6</text>
<text x="256.9" y="539" text-anchor="middle">2.8</text>
<text x="316.7" y="539" text-anchor="middle">3</text>
<text x="380" y="539" text-anchor="middle">3.2</text>
<text x="442" y="539" text-anchor="middle">3.4</text>
</g>
<text x="257.8" y="561.7" text-anchor="middle" font-size="21.7" fill="#222" font-family='"Liberation Sans", "Noto Sans CJK SC", sans-serif'><tspan font-family='"Liberation Serif", "Noto Serif CJK SC", serif'>波长</tspan> (μm)</text>
<text transform="translate(18.7 275.9) rotate(-90) scale(1 0.87)" text-anchor="middle" font-size="21.6" fill="#333" font-family='"Liberation Serif", "Noto Serif CJK SC", serif'>反射率</text>
<rect x="76.8" y="26.4" width="252.1" height="137.8" fill="#fff" stroke="#000" stroke-width="1.3"/>
<g font-family='"Liberation Serif", "Noto Serif CJK SC", serif' font-size="12" font-weight="500" fill="#111">
<circle cx="101.3" cy="35.4" r="4.2" fill="#a67a1f" stroke="#000" stroke-width="0.9"/>
<text x="125.5" y="39.7">嫦娥六号样品点<tspan dx="1" font-size="11.4">1</tspan></text>
<circle cx="101.3" cy="49.95" r="4.2" fill="#1f78b8" stroke="#000" stroke-width="0.9"/>
<text x="125.5" y="54.25">嫦娥六号样品点<tspan dx="1" font-size="11.4">2</tspan></text>
<circle cx="101.3" cy="64.5" r="4.2" fill="#a8a8a8" stroke="#000" stroke-width="0.9"/>
<text x="125.5" y="68.8">嫦娥六号样品点<tspan dx="1" font-size="11.4">3</tspan></text>
<circle cx="101.3" cy="79.05" r="4.2" fill="#dcdc3c" stroke="#000" stroke-width="0.9"/>
<text x="125.5" y="83.35">嫦娥六号样品点<tspan dx="1" font-size="11.4">4</tspan></text>
<circle cx="101.3" cy="93.6" r="4.2" fill="#12357d" stroke="#000" stroke-width="0.9"/>
<text x="125.5" y="97.9">嫦娥六号样品点<tspan dx="1" font-size="11.4">5</tspan></text>
<circle cx="101.3" cy="108.15" r="4.2" fill="#e37b7b" stroke="#000" stroke-width="0.9"/>
<text x="125.5" y="112.45">嫦娥六号样品<tspan x="206.6">(</tspan><tspan x="211">平均</tspan><tspan x="235.7">)</tspan></text>
<circle cx="101.3" cy="122.7" r="4.2" fill="#5557ad" stroke="#000" stroke-width="0.9"/>
<text x="125.5" y="127">嫦娥五号样品</text>
</g>
<line x1="81.3" y1="137.3" x2="121.6" y2="137.3" stroke="#b0559f" stroke-width="5.6"/>
<line x1="81.3" y1="153.8" x2="121.6" y2="153.8" stroke="#000" stroke-width="5.6"/>
<text x="125.3" y="141.6" font-size="12.2" fill="#111" font-family='"Liberation Sans", "Noto Sans CJK SC", sans-serif'>Deep Impact (Sunshine et al., 2009)</text>
<text x="127.6" y="160" font-size="12.1" font-weight="500" fill="#111" font-family='"Liberation Serif", "Noto Serif CJK SC", serif'>嫦娥六号着陆区的<tspan font-family='"Liberation Sans", "Noto Sans CJK SC", sans-serif' font-size="12.6" font-weight="400">M</tspan><tspan font-family='"Liberation Sans", "Noto Sans CJK SC", sans-serif' font-size="6.6" dy="-5">3</tspan><tspan dy="5">光谱</tspan></text>
</g>
<g id="right">
<rect x="559.3" y="237.76" width="685.7" height="91.19" fill="#f0f0f0"/>
<line x1="563.7" y1="107" x2="563.7" y2="387" stroke="#808080" stroke-width="1.3"/>
<line x1="568.2" y1="33.3" x2="568.2" y2="300" stroke="#808080" stroke-width="1.3"/>
<line x1="571.7" y1="206.8" x2="571.7" y2="441" stroke="#808080" stroke-width="1.3"/>
<line x1="577.9" y1="76.1" x2="577.9" y2="237.8" stroke="#808080" stroke-width="1.3"/>
<line x1="585.2" y1="82.5" x2="585.2" y2="244.6" stroke="#808080" stroke-width="1.3"/>
<line x1="566.4" y1="199" x2="566.4" y2="406" stroke="#808080" stroke-width="1.3"/>
<line x1="569.1" y1="318" x2="569.1" y2="400" stroke="#808080" stroke-width="1.3"/>
<line x1="578.6" y1="300.5" x2="578.6" y2="415" stroke="#808080" stroke-width="1.3"/>
<line x1="579.7" y1="340" x2="579.7" y2="423.5" stroke="#808080" stroke-width="1.3"/>
<line x1="584.6" y1="345" x2="584.6" y2="380" stroke="#808080" stroke-width="1.3"/>
<line x1="619.5" y1="208" x2="619.5" y2="285.4" stroke="#808080" stroke-width="1.3"/>
<line x1="626.1" y1="264" x2="626.1" y2="329.5" stroke="#808080" stroke-width="1.3"/>
<line x1="617.5" y1="341.5" x2="617.5" y2="394.2" stroke="#808080" stroke-width="1.3"/>
<line x1="625.6" y1="378.2" x2="625.6" y2="425.8" stroke="#808080" stroke-width="1.3"/>
<line x1="627.6" y1="415.5" x2="627.6" y2="452.1" stroke="#808080" stroke-width="1.3"/>
<line x1="647.6" y1="383.7" x2="647.6" y2="415.3" stroke="#808080" stroke-width="1.3"/>
<line x1="646.6" y1="343.5" x2="646.6" y2="366" stroke="#808080" stroke-width="1.3"/>
<line x1="598.2" y1="425" x2="598.2" y2="444" stroke="#808080" stroke-width="1.3"/>
<line x1="786.1" y1="420.5" x2="786.1" y2="490.6" stroke="#808080" stroke-width="1.3"/>
<rect x="562.55" y="137.15" width="11.3" height="11.3" fill="#fff" stroke="#808080" stroke-width="1.5"/>
<rect x="562.55" y="152.25" width="11.3" height="11.3" fill="#fff" stroke="#808080" stroke-width="1.5"/>
<rect x="574.15" y="151.15" width="11.3" height="11.3" fill="#fff" stroke="#808080" stroke-width="1.5"/>
<rect x="579.35" y="157.55" width="11.3" height="11.3" fill="#fff" stroke="#808080" stroke-width="1.5"/>
<polygon points="563.7,223.5 557.1,234.5 570.3,234.5" fill="#fff" stroke="#808080" stroke-width="1.5" stroke-linejoin="miter"/>
<polygon points="571.6,246.3 565,257.3 578.2,257.3" fill="#fff" stroke="#808080" stroke-width="1.5" stroke-linejoin="miter"/>
<polygon points="563.7,285 557.1,296 570.3,296" fill="#fff" stroke="#808080" stroke-width="1.5" stroke-linejoin="miter"/>
<polygon points="619.5,239.8 625.48,243.25 625.48,250.15 619.5,253.6 613.52,250.15 613.52,243.25" fill="#fff" stroke="#808080" stroke-width="1.5" stroke-linejoin="miter"/>
<polygon points="626.1,289.9 632.08,293.35 632.08,300.25 626.1,303.7 620.12,300.25 620.12,293.35" fill="#fff" stroke="#808080" stroke-width="1.5" stroke-linejoin="miter"/>
<polygon points="578.5,324.9 584.48,328.35 584.48,335.25 578.5,338.7 572.52,335.25 572.52,328.35" fill="#fff" stroke="#808080" stroke-width="1.5" stroke-linejoin="miter"/>
<polygon points="567.5,343.7 573.48,347.15 573.48,354.05 567.5,357.5 561.52,354.05 561.52,347.15" fill="#fff" stroke="#808080" stroke-width="1.5" stroke-linejoin="miter"/>
<polygon points="567.5,356.5 560.9,367.5 574.1,367.5" fill="#fff" stroke="#808080" stroke-width="1.5" stroke-linejoin="miter"/>
<polygon points="584.5,356 577.9,367 591.1,367" fill="#fff" stroke="#808080" stroke-width="1.5" stroke-linejoin="miter"/>
<polygon points="580,381.6 585.98,385.05 585.98,391.95 580,395.4 574.02,391.95 574.02,385.05" fill="#fff" stroke="#808080" stroke-width="1.5" stroke-linejoin="miter"/>
<polygon points="572,385.5 577.98,388.95 577.98,395.85 572,399.3 566.02,395.85 566.02,388.95" fill="#fff" stroke="#808080" stroke-width="1.5" stroke-linejoin="miter"/>
<polygon points="572,399.3 577.98,402.75 577.98,409.65 572,413.1 566.02,409.65 566.02,402.75" fill="#fff" stroke="#808080" stroke-width="1.5" stroke-linejoin="miter"/>
<rect x="611.85" y="362.55" width="11.3" height="11.3" fill="#fff" stroke="#808080" stroke-width="1.5"/>
<rect x="619.85" y="396.35" width="11.3" height="11.3" fill="#fff" stroke="#808080" stroke-width="1.5"/>
<rect x="642.25" y="394.15" width="11.3" height="11.3" fill="#fff" stroke="#808080" stroke-width="1.5"/>
<rect x="592.55" y="428.85" width="11.3" height="11.3" fill="#fff" stroke="#808080" stroke-width="1.5"/>
<rect x="621.95" y="428.55" width="11.3" height="11.3" fill="#fff" stroke="#808080" stroke-width="1.5"/>
<rect x="651.75" y="438.85" width="11.3" height="11.3" fill="#fff" stroke="#808080" stroke-width="1.5"/>
<rect x="647.75" y="432.35" width="11.3" height="11.3" fill="#fff" stroke="#808080" stroke-width="1.5"/>
<rect x="690.65" y="429.75" width="11.3" height="11.3" fill="#fff" stroke="#808080" stroke-width="1.5"/>
<rect x="724.35" y="423.45" width="11.3" height="11.3" fill="#fff" stroke="#808080" stroke-width="1.5"/>
<rect x="681.65" y="454.75" width="11.3" height="11.3" fill="#fff" stroke="#808080" stroke-width="1.5"/>
<rect x="892.65" y="436.05" width="11.3" height="11.3" fill="#fff" stroke="#808080" stroke-width="1.5"/>
<rect x="1064.95" y="451.95" width="11.3" height="11.3" fill="#fff" stroke="#808080" stroke-width="1.5"/>
<rect x="920.35" y="431.35" width="11.3" height="11.3" fill="#fff" stroke="#808080" stroke-width="1.5"/>
<polygon points="594.1,417.4 587.5,428.4 600.7,428.4" fill="#fff" stroke="#808080" stroke-width="1.5" stroke-linejoin="miter"/>
<polygon points="646.7,349.8 640.1,360.8 653.3,360.8" fill="#fff" stroke="#808080" stroke-width="1.5" stroke-linejoin="miter"/>
<polygon points="714.5,439.3 707.9,450.3 721.1,450.3" fill="#fff" stroke="#808080" stroke-width="1.5" stroke-linejoin="miter"/>
<polygon points="730,444.4 723.4,455.4 736.6,455.4" fill="#fff" stroke="#808080" stroke-width="1.5" stroke-linejoin="miter"/>
<polygon points="721,453.4 714.4,464.4 727.6,464.4" fill="#fff" stroke="#808080" stroke-width="1.5" stroke-linejoin="miter"/>
<polygon points="733,457.8 726.4,468.8 739.6,468.8" fill="#fff" stroke="#808080" stroke-width="1.5" stroke-linejoin="miter"/>
<polygon points="727,456.3 720.4,467.3 733.6,467.3" fill="#fff" stroke="#808080" stroke-width="1.5" stroke-linejoin="miter"/>
<polygon points="761,458.5 754.4,469.5 767.6,469.5" fill="#fff" stroke="#808080" stroke-width="1.5" stroke-linejoin="miter"/>
<polygon points="837.8,456 831.2,467 844.4,467" fill="#fff" stroke="#808080" stroke-width="1.5" stroke-linejoin="miter"/>
<polygon points="866.4,459 859.8,470 873,470" fill="#fff" stroke="#808080" stroke-width="1.5" stroke-linejoin="miter"/>
<polygon points="875.5,455 868.9,466 882.1,466" fill="#fff" stroke="#808080" stroke-width="1.5" stroke-linejoin="miter"/>
<polygon points="1011.2,453.5 1004.6,464.5 1017.8,464.5" fill="#fff" stroke="#808080" stroke-width="1.5" stroke-linejoin="miter"/>
<polygon points="1022.3,453.5 1015.7,464.5 1028.9,464.5" fill="#fff" stroke="#808080" stroke-width="1.5" stroke-linejoin="miter"/>
<polygon points="1034.8,457.2 1028.2,468.2 1041.4,468.2" fill="#fff" stroke="#808080" stroke-width="1.5" stroke-linejoin="miter"/>
<polygon points="775.2,445.5 781.18,448.95 781.18,455.85 775.2,459.3 769.22,455.85 769.22,448.95" fill="#fff" stroke="#808080" stroke-width="1.5" stroke-linejoin="miter"/>
<polygon points="887.4,452.4 893.38,455.85 893.38,462.75 887.4,466.2 881.42,462.75 881.42,455.85" fill="#fff" stroke="#808080" stroke-width="1.5" stroke-linejoin="miter"/>
<polygon points="882,449.6 887.98,453.05 887.98,459.95 882,463.4 876.02,459.95 876.02,453.05" fill="#fff" stroke="#808080" stroke-width="1.5" stroke-linejoin="miter"/>
<polygon points="998.2,454.2 1004.18,457.65 1004.18,464.55 998.2,468 992.22,464.55 992.22,457.65" fill="#fff" stroke="#808080" stroke-width="1.5" stroke-linejoin="miter"/>
<polygon points="988.5,457.1 994.48,460.55 994.48,467.45 988.5,470.9 982.52,467.45 982.52,460.55" fill="#fff" stroke="#808080" stroke-width="1.5" stroke-linejoin="miter"/>
<polygon points="1063.7,422.1 1069.68,425.55 1069.68,432.45 1063.7,435.9 1057.72,432.45 1057.72,425.55" fill="#fff" stroke="#808080" stroke-width="1.5" stroke-linejoin="miter"/>
<circle cx="786.1" cy="456.3" r="6.0" fill="#fff" stroke="#808080" stroke-width="1.5"/>
<circle cx="828.2" cy="462.6" r="6.0" fill="#fff" stroke="#808080" stroke-width="1.5"/>
<line x1="692.7" y1="389.7" x2="692.7" y2="407.5" stroke="#000" stroke-width="1.3"/>
<rect x="685.6" y="392.9" width="14.2" height="14.2" fill="#000" stroke="none" stroke-width="0"/>
<rect x="716" y="430.4" width="14.2" height="14.2" fill="#000" stroke="none" stroke-width="0"/>
<circle cx="673.9" cy="421.8" r="8.1" fill="#000" stroke="none" stroke-width="0"/>
<circle cx="683.6" cy="427.8" r="8.1" fill="#000" stroke="none" stroke-width="0"/>
<circle cx="747.3" cy="446.4" r="8.1" fill="#000" stroke="none" stroke-width="0"/>
<polygon points="809.8,431.4 817.07,435.6 817.07,444 809.8,448.2 802.53,444 802.53,435.6" fill="#000" stroke="none" stroke-width="0" stroke-linejoin="miter"/>
<polygon points="817.2,428.9 824.47,433.1 824.47,441.5 817.2,445.7 809.93,441.5 809.93,433.1" fill="#000" stroke="none" stroke-width="0" stroke-linejoin="miter"/>
<polygon points="798.3,445 805.57,449.2 805.57,457.6 798.3,461.8 791.03,457.6 791.03,449.2" fill="#000" stroke="none" stroke-width="0" stroke-linejoin="miter"/>
<polygon points="815.6,455 822.87,459.2 822.87,467.6 815.6,471.8 808.33,467.6 808.33,459.2" fill="#000" stroke="none" stroke-width="0" stroke-linejoin="miter"/>
<polygon points="894.9,408.4 902.17,412.6 902.17,421 894.9,425.2 887.63,421 887.63,412.6" fill="#000" stroke="none" stroke-width="0" stroke-linejoin="miter"/>
<polygon points="790.9,443.75 783.15,457.25 798.65,457.25" fill="#000" stroke="#000" stroke-width="0.6" stroke-linejoin="miter"/>
<line x1="590.3" y1="322.2" x2="590.3" y2="360" stroke="#000" stroke-width="1.3"/>
<line x1="597.6" y1="355" x2="597.6" y2="385" stroke="#000" stroke-width="1.3"/>
<line x1="595.4" y1="385" x2="595.4" y2="412" stroke="#000" stroke-width="1.3"/>
<line x1="594.6" y1="411" x2="594.6" y2="418" stroke="#808080" stroke-width="1.3"/>
<line x1="651.3" y1="362" x2="651.3" y2="386" stroke="#000" stroke-width="1.0"/>
<line x1="670.4" y1="327.4" x2="670.4" y2="349.5" stroke="#000" stroke-width="1.0"/>
<rect x="673.25" y="438.95" width="15.3" height="15.3" fill="#7cc8fc" stroke="#000" stroke-width="1.5"/>
<circle cx="880.3" cy="440.4" r="9.15" fill="#008078" stroke="#000" stroke-width="1.5"/>
<rect x="587.85" y="383.95" width="15.3" height="15.3" fill="#7cc8fc" stroke="#000" stroke-width="1.5"/>
<rect x="666.35" y="445.15" width="15.3" height="15.3" fill="#7cc8fc" stroke="#000" stroke-width="1.5"/>
<rect x="734.25" y="373.95" width="15.3" height="15.3" fill="#7cc8fc" stroke="#000" stroke-width="1.5"/>
<rect x="820.55" y="396.85" width="15.3" height="15.3" fill="#7cc8fc" stroke="#000" stroke-width="1.5"/>
<rect x="850.85" y="406.15" width="15.3" height="15.3" fill="#7cc8fc" stroke="#000" stroke-width="1.5"/>
<circle cx="651.3" cy="374.2" r="9.15" fill="#008078" stroke="#000" stroke-width="1.5"/>
<circle cx="718.4" cy="389.7" r="9.15" fill="#008078" stroke="#000" stroke-width="1.5"/>
<circle cx="706.1" cy="455.4" r="9.15" fill="#008078" stroke="#000" stroke-width="1.5"/>
<polygon points="590.3,337.78 598.05,342.39 598.05,351.61 590.3,356.22 582.55,351.61 582.55,342.39" fill="#ffc200" stroke="#000" stroke-width="1.5" stroke-linejoin="miter"/>
<polygon points="597.6,360.38 605.35,364.99 605.35,374.21 597.6,378.82 589.85,374.21 589.85,364.99" fill="#ffc200" stroke="#000" stroke-width="1.5" stroke-linejoin="miter"/>
<polygon points="670.4,329.58 678.15,334.19 678.15,343.41 670.4,348.02 662.65,343.41 662.65,334.19" fill="#ffc200" stroke="#000" stroke-width="1.5" stroke-linejoin="miter"/>
<polygon points="648.4,447.08 656.15,451.69 656.15,460.91 648.4,465.52 640.65,460.91 640.65,451.69" fill="#ffc200" stroke="#000" stroke-width="1.5" stroke-linejoin="miter"/>
<polygon points="689.7,443.18 697.45,447.79 697.45,457.01 689.7,461.62 681.95,457.01 681.95,447.79" fill="#ffc200" stroke="#000" stroke-width="1.5" stroke-linejoin="miter"/>
<polygon points="769.5,451.68 777.25,456.29 777.25,465.51 769.5,470.12 761.75,465.51 761.75,456.29" fill="#ffc200" stroke="#000" stroke-width="1.5" stroke-linejoin="miter"/>
<polygon points="860.6,438.78 868.35,443.39 868.35,452.61 860.6,457.22 852.85,452.61 852.85,443.39" fill="#ffc200" stroke="#000" stroke-width="1.5" stroke-linejoin="miter"/>
<polygon points="876.8,433.88 884.55,438.49 884.55,447.71 876.8,452.32 869.05,447.71 869.05,438.49" fill="#ffc200" stroke="#000" stroke-width="1.5" stroke-linejoin="miter"/>
<polygon points="900.7,453.08 908.45,457.69 908.45,466.91 900.7,471.52 892.95,466.91 892.95,457.69" fill="#ffc200" stroke="#000" stroke-width="1.5" stroke-linejoin="miter"/>
<polygon points="922.8,429.18 930.55,433.79 930.55,443.01 922.8,447.62 915.05,443.01 915.05,433.79" fill="#ffc200" stroke="#000" stroke-width="1.5" stroke-linejoin="miter"/>
<polygon points="971,447.08 978.75,451.69 978.75,460.91 971,465.52 963.25,460.91 963.25,451.69" fill="#ffc200" stroke="#000" stroke-width="1.5" stroke-linejoin="miter"/>
<polygon points="1066.3,449.18 1074.05,453.79 1074.05,463.01 1066.3,467.62 1058.55,463.01 1058.55,453.79" fill="#ffc200" stroke="#000" stroke-width="1.5" stroke-linejoin="miter"/>
<polygon points="1154.2,451.28 1161.95,455.89 1161.95,465.11 1154.2,469.72 1146.45,465.11 1146.45,455.89" fill="#ffc200" stroke="#000" stroke-width="1.5" stroke-linejoin="miter"/>
<polygon points="1224.2,446.58 1231.95,451.19 1231.95,460.41 1224.2,465.02 1216.45,460.41 1216.45,451.19" fill="#ffc200" stroke="#000" stroke-width="1.5" stroke-linejoin="miter"/>
<polygon points="1051,363.18 1058.75,367.79 1058.75,377.01 1051,381.62 1043.25,377.01 1043.25,367.79" fill="#ffc200" stroke="#000" stroke-width="1.5" stroke-linejoin="miter"/>
<text x="1067.4" y="377.8" font-size="18.4" fill="#111" font-family='"Liberation Sans", "Noto Sans CJK SC", sans-serif'>SW2-14-1</text>
<text x="1103.5" y="292.2" text-anchor="middle" font-size="18" fill="#222" font-family='"Liberation Serif", "Noto Serif CJK SC", serif'>月幔</text>
<g stroke="#000" stroke-width="1.35" fill="none">
<rect x="559.3" y="9.8" width="685.7" height="492.4"/>
<path d="M559.3 502.2v10.8M635.49 502.2v10.8M711.68 502.2v10.8M787.87 502.2v10.8M864.06 502.2v10.8M940.24 502.2v10.8M1016.43 502.2v10.8M1092.62 502.2v10.8M1168.81 502.2v10.8M1245 502.2v10.8M559.3 9.79h-10.9M559.3 55.39h-8M559.3 100.98h-10.9M559.3 146.57h-8M559.3 192.16h-10.9M559.3 237.76h-8M559.3 283.35h-10.9M559.3 328.94h-8M559.3 374.54h-10.9M559.3 420.13h-8M559.3 465.72h-10.9"/>
</g>
<g font-family='"Liberation Sans", "Noto Sans CJK SC", sans-serif' font-size="18.2" fill="#000">
<text x="544.4" y="16.24" text-anchor="end">1500</text>
<text x="544.3" y="107.43" text-anchor="end">1000</text>
<text x="543.6" y="198.61" text-anchor="end">500</text>
<text x="542.3" y="289.8" text-anchor="end">0</text>
<text x="543.8" y="380.99" text-anchor="end">-500</text>
<text x="543.8" y="472.17" text-anchor="end">-1000</text>
<text x="556.4" y="533.3" text-anchor="middle">0</text>
<text x="628.8" y="533.3" text-anchor="middle">2000</text>
<text x="706.2" y="533.3" text-anchor="middle">4000</text>
<text x="783.6" y="533.3" text-anchor="middle">6000</text>
<text x="861.7" y="533.3" text-anchor="middle">8000</text>
<text x="939.7" y="533.3" text-anchor="middle">10000</text>
<text x="1017.5" y="533.3" text-anchor="middle">12000</text>
<text x="1095" y="533.3" text-anchor="middle">14000</text>
<text x="1167.4" y="533.3" text-anchor="middle">16000</text>
<text x="1244.4" y="533.3" text-anchor="middle">18000</text>
</g>
<text x="902" y="562" text-anchor="middle" font-size="21.7" fill="#222" font-family='"Liberation Sans", "Noto Sans CJK SC", sans-serif'><tspan font-family='"Liberation Serif", "Noto Serif CJK SC", serif'>水含量</tspan> (ppm)</text>
<text transform="translate(505.8 270.5) rotate(-90)" text-anchor="middle" font-size="21.7" fill="#111" font-family='"Liberation Sans", "Noto Sans CJK SC", sans-serif'>δD (‰)</text>
<rect x="947.9" y="18.4" width="288.9" height="128.5" fill="#fff" stroke="#333" stroke-width="1.2"/>
<g font-family='"Liberation Serif", "Noto Serif CJK SC", serif' font-size="17.1" fill="#222">
<text x="1017.4" y="39.6">嫦娥五号</text>
<text x="1099.0" y="39.6">阿波罗</text>
<text x="1157.0" y="39.6">嫦娥六号</text>
<text x="953.5" y="63.6">橄榄石</text>
<text x="953.5" y="89.9">辉石</text>
<text x="953.5" y="115.4">斜长石</text>
<text x="953.5" y="140">玻璃</text>
</g>
<polygon points="1066.8,51.6 1059.5,63.6 1074.1,63.6" fill="#fff" stroke="#808080" stroke-width="2.0" stroke-linejoin="miter"/>
<circle cx="1066.8" cy="83.7" r="7.1" fill="#fff" stroke="#808080" stroke-width="2.0"/>
<rect x="1060.8" y="104" width="12.0" height="12.0" fill="#fff" stroke="#808080" stroke-width="2.0"/>
<polygon points="1066.8,126.6 1073.21,130.3 1073.21,137.7 1066.8,141.4 1060.39,137.7 1060.39,130.3" fill="#fff" stroke="#808080" stroke-width="2.0" stroke-linejoin="miter"/>
<polygon points="1126.8,49.8 1118.4,63.8 1135.2,63.8" fill="#000" stroke="#000" stroke-width="0.6" stroke-linejoin="miter"/>
<circle cx="1126.8" cy="83.5" r="8.1" fill="#000" stroke="none" stroke-width="0"/>
<rect x="1119.7" y="102.9" width="14.2" height="14.2" fill="#000" stroke="none" stroke-width="0"/>
<polygon points="1126.8,125.1 1134.07,129.3 1134.07,137.7 1126.8,141.9 1119.53,137.7 1119.53,129.3" fill="#000" stroke="none" stroke-width="0" stroke-linejoin="miter"/>
<circle cx="1192.4" cy="83" r="8.2" fill="#008078" stroke="#000" stroke-width="1.3"/>
<rect x="1185.3" y="102.4" width="14.2" height="14.2" fill="#7cc8fc" stroke="#000" stroke-width="1.3"/>
<polygon points="1192.4,122.66 1199.67,127.03 1199.67,135.77 1192.4,140.14 1185.13,135.77 1185.13,127.03" fill="#ffc200" stroke="#000" stroke-width="1.3" stroke-linejoin="miter"/>
</g>
</svg>
</body></html>
